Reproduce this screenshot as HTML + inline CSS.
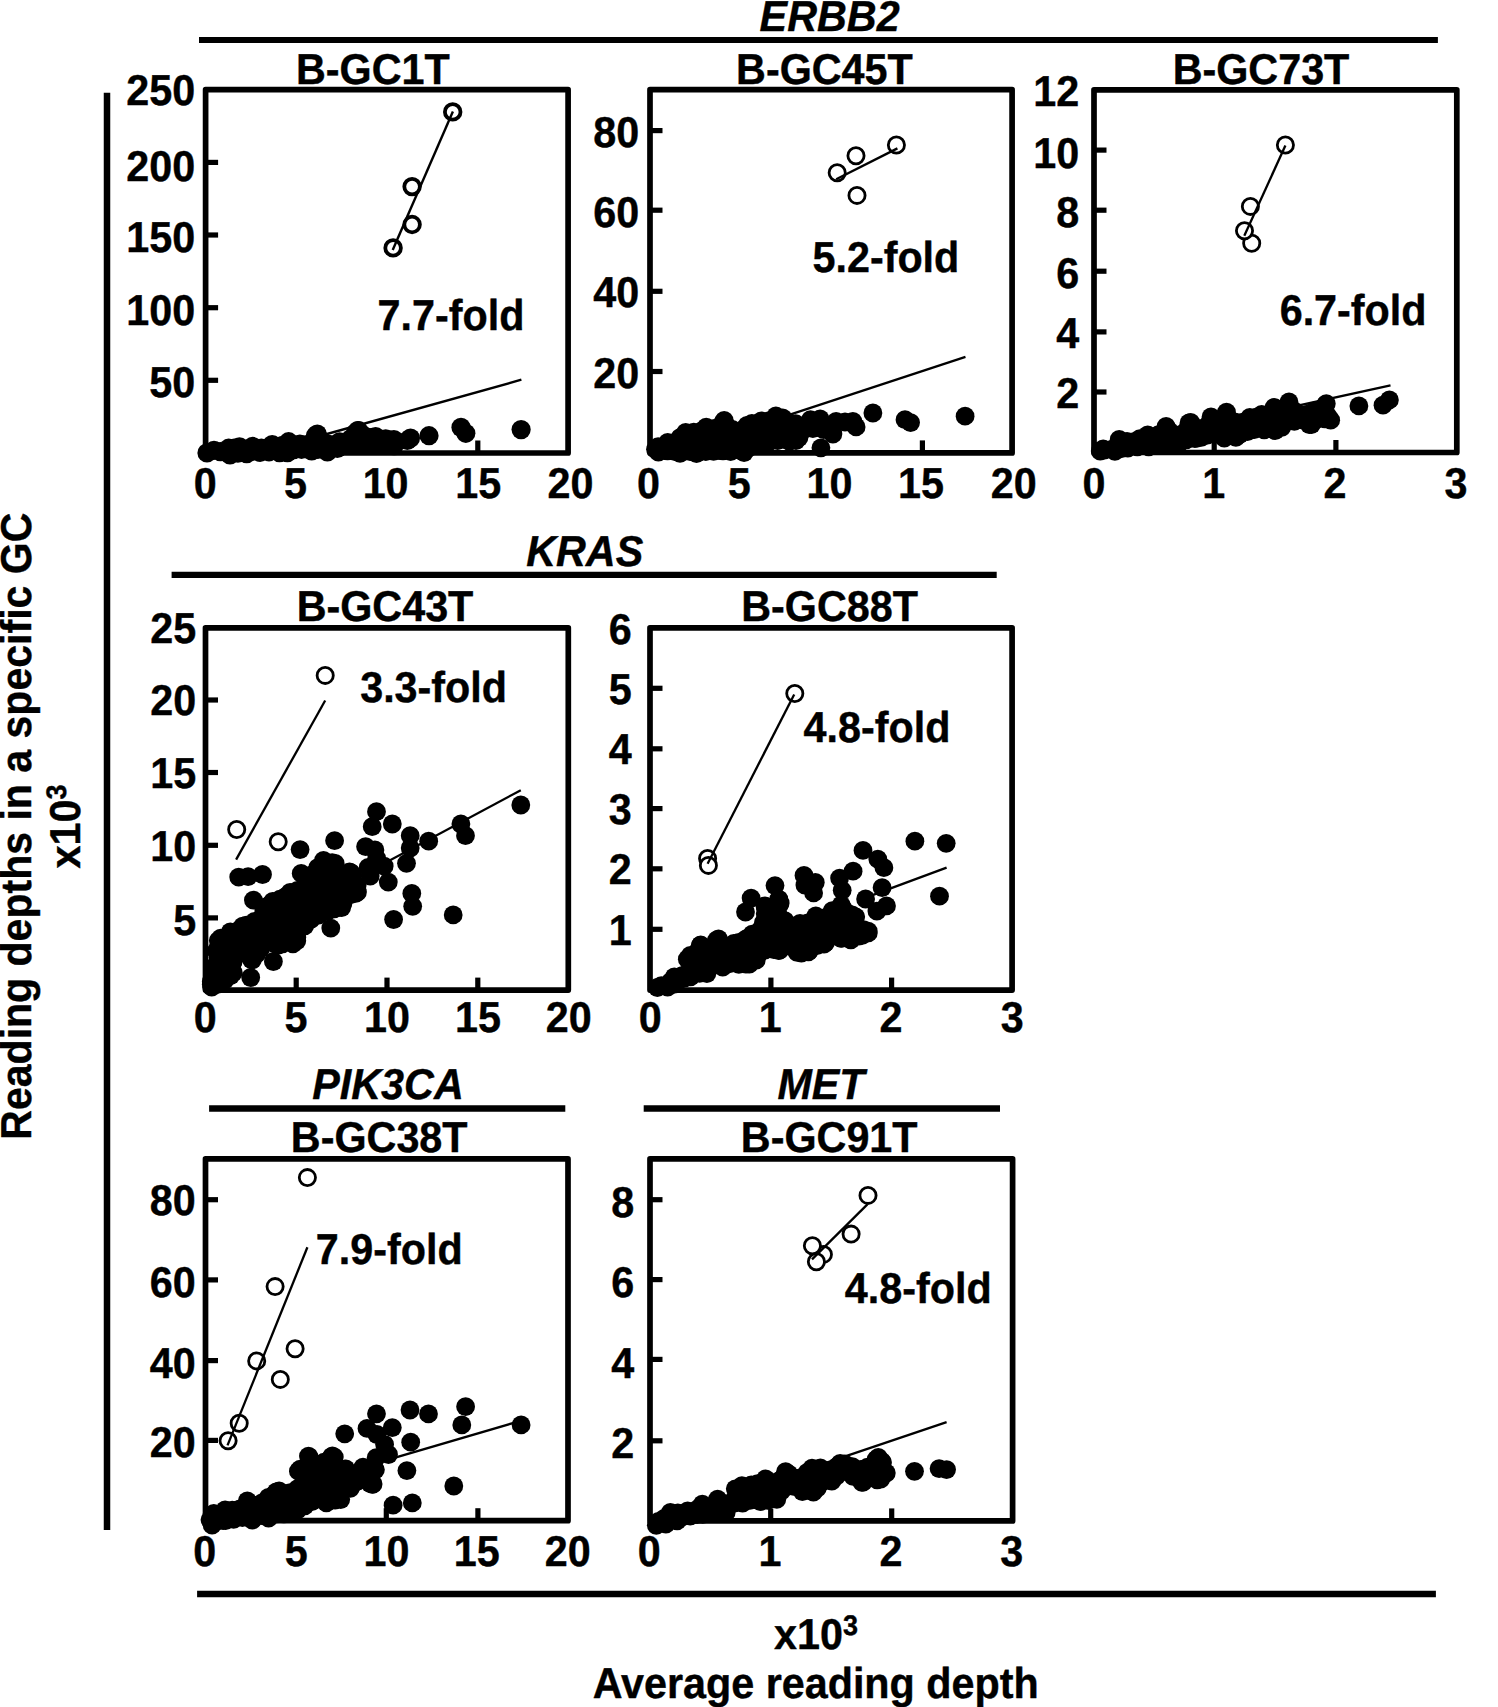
<!DOCTYPE html>
<html lang="en"><head><meta charset="utf-8"><title>Figure</title>
<style>html,body{margin:0;padding:0;background:#fff}svg{display:block}</style></head>
<body>
<svg width="1498" height="1707" viewBox="0 0 1498 1707" font-family="'Liberation Sans', sans-serif" font-weight="bold" fill="#000" text-rendering="geometricPrecision">
<style>text{stroke:#000;stroke-width:0.4px;stroke-linejoin:round}</style>
<rect width="1498" height="1707" fill="#fff"/>
<line x1="199.0" y1="40.0" x2="1437.9" y2="40.0" stroke="#000" stroke-width="6.2"/>
<line x1="171.6" y1="574.9" x2="996.7" y2="574.9" stroke="#000" stroke-width="6.4"/>
<line x1="209.1" y1="1108.5" x2="565.3" y2="1108.5" stroke="#000" stroke-width="6.6"/>
<line x1="643.7" y1="1108.5" x2="1000.0" y2="1108.5" stroke="#000" stroke-width="6.6"/>
<line x1="197.1" y1="1593.9" x2="1435.9" y2="1593.9" stroke="#000" stroke-width="6.5"/>
<line x1="107.0" y1="92.7" x2="107.0" y2="1530.1" stroke="#000" stroke-width="6.5"/>
<text transform="translate(829.6,30.7) scale(1,1.045)" text-anchor="middle" font-size="41.3" font-style="italic">ERBB2</text>
<text transform="translate(584.7,566.0) scale(1,1.045)" text-anchor="middle" font-size="41.3" font-style="italic">KRAS</text>
<text transform="translate(388.0,1099.3) scale(1,1.045)" text-anchor="middle" font-size="41.3" font-style="italic">PIK3CA</text>
<text transform="translate(821.0,1099.3) scale(1,1.045)" text-anchor="middle" font-size="41.3" font-style="italic">MET</text>
<text transform="translate(30.7,826.2) rotate(-90) scale(0.9936,1.045)" text-anchor="middle" font-size="41.3">Reading depths in a specific GC</text>
<text transform="translate(79.8,826.5) rotate(-90) scale(1,1.045)" text-anchor="middle" font-size="41.3">x10<tspan font-size="27" dy="-13">3</tspan></text>
<text transform="translate(816,1649) scale(1,1.045)" text-anchor="middle" font-size="41.3">x10<tspan font-size="27" dy="-13">3</tspan></text>
<text transform="translate(815.7,1697.6) scale(1,1.045)" text-anchor="middle" font-size="41.3">Average reading depth</text>
<rect x="205.6" y="89.7" width="362.5" height="363.3" fill="none" stroke="#000" stroke-width="5.7" stroke-linejoin="round"/>
<line x1="205.6" y1="162.4" x2="218.1" y2="162.4" stroke="#000" stroke-width="5.2"/>
<line x1="205.6" y1="235.0" x2="218.1" y2="235.0" stroke="#000" stroke-width="5.2"/>
<line x1="205.6" y1="307.7" x2="218.1" y2="307.7" stroke="#000" stroke-width="5.2"/>
<line x1="205.6" y1="380.3" x2="218.1" y2="380.3" stroke="#000" stroke-width="5.2"/>
<line x1="477.8" y1="453.0" x2="477.8" y2="440.5" stroke="#000" stroke-width="5.2"/>
<text transform="translate(195.2,105.4) scale(1,1.045)" text-anchor="end" font-size="41.3">250</text>
<text transform="translate(195.2,181.4) scale(1,1.045)" text-anchor="end" font-size="41.3">200</text>
<text transform="translate(195.2,252.3) scale(1,1.045)" text-anchor="end" font-size="41.3">150</text>
<text transform="translate(195.2,324.9) scale(1,1.045)" text-anchor="end" font-size="41.3">100</text>
<text transform="translate(195.2,396.6) scale(1,1.045)" text-anchor="end" font-size="41.3">50</text>
<text transform="translate(205.3,497.9) scale(1,1.045)" text-anchor="middle" font-size="41.3">0</text>
<text transform="translate(295.4,497.9) scale(1,1.045)" text-anchor="middle" font-size="41.3">5</text>
<text transform="translate(385.6,497.9) scale(1,1.045)" text-anchor="middle" font-size="41.3">10</text>
<text transform="translate(478.2,497.9) scale(1,1.045)" text-anchor="middle" font-size="41.3">15</text>
<text transform="translate(570.4,497.9) scale(1,1.045)" text-anchor="middle" font-size="41.3">20</text>
<text transform="translate(372.9,84.0) scale(1,1.045)" text-anchor="middle" font-size="41.3">B-GC1T</text>
<text transform="translate(451.0,330.0) scale(1,1.045)" text-anchor="middle" font-size="41.3">7.7-fold</text>
<line x1="300.0" y1="441.5" x2="521.4" y2="379.7" stroke="#000" stroke-width="2.4"/>
<g fill="#000"><circle cx="521.1" cy="429.6" r="9.6"/><circle cx="461.0" cy="427.4" r="9.6"/><circle cx="465.8" cy="433.3" r="9.6"/><circle cx="429.0" cy="435.7" r="9.6"/><circle cx="410.5" cy="438.1" r="9.6"/><circle cx="407.3" cy="440.5" r="9.6"/><circle cx="389.7" cy="440.5" r="9.6"/><circle cx="375.3" cy="437.3" r="9.6"/><circle cx="357.7" cy="430.6" r="9.6"/><circle cx="317.3" cy="434.1" r="9.6"/><circle cx="220.4" cy="451.7" r="9.6"/><circle cx="227.2" cy="451.9" r="9.6"/><circle cx="235.2" cy="451.3" r="9.6"/><circle cx="243.8" cy="451.3" r="9.6"/><circle cx="253.0" cy="451.2" r="9.6"/><circle cx="260.2" cy="452.3" r="9.6"/><circle cx="269.0" cy="451.8" r="9.6"/><circle cx="276.2" cy="450.3" r="9.6"/><circle cx="283.4" cy="449.8" r="9.6"/><circle cx="293.6" cy="449.7" r="9.6"/><circle cx="301.5" cy="449.3" r="9.6"/><circle cx="307.3" cy="449.0" r="9.6"/><circle cx="317.8" cy="449.4" r="9.6"/><circle cx="325.7" cy="449.2" r="9.6"/><circle cx="334.4" cy="447.3" r="9.6"/><circle cx="340.3" cy="444.2" r="9.6"/><circle cx="335.1" cy="445.2" r="9.6"/><circle cx="329.1" cy="444.4" r="9.6"/><circle cx="321.5" cy="440.6" r="9.6"/><circle cx="314.9" cy="440.5" r="9.6"/><circle cx="306.7" cy="444.6" r="9.6"/><circle cx="299.9" cy="444.1" r="9.6"/><circle cx="291.7" cy="444.4" r="9.6"/><circle cx="282.7" cy="445.3" r="9.6"/><circle cx="276.2" cy="446.3" r="9.6"/><circle cx="268.4" cy="447.7" r="9.6"/><circle cx="261.4" cy="448.1" r="9.6"/><circle cx="252.4" cy="449.9" r="9.6"/><circle cx="244.6" cy="450.1" r="9.6"/><circle cx="234.2" cy="448.2" r="9.6"/><circle cx="228.8" cy="450.6" r="9.6"/><circle cx="313.4" cy="442.9" r="9.6"/><circle cx="319.4" cy="442.9" r="9.6"/><circle cx="268.4" cy="448.1" r="9.6"/><circle cx="274.4" cy="448.1" r="9.6"/><circle cx="280.4" cy="448.1" r="9.6"/><circle cx="286.4" cy="448.1" r="9.6"/><circle cx="292.4" cy="448.1" r="9.6"/><circle cx="298.4" cy="448.1" r="9.6"/><circle cx="304.4" cy="448.1" r="9.6"/><circle cx="310.4" cy="448.1" r="9.6"/><circle cx="316.4" cy="448.1" r="9.6"/><circle cx="322.4" cy="448.1" r="9.6"/><circle cx="328.4" cy="448.1" r="9.6"/><circle cx="343.8" cy="442.3" r="9.6"/><circle cx="351.7" cy="443.1" r="9.6"/><circle cx="358.3" cy="442.0" r="9.6"/><circle cx="367.5" cy="442.5" r="9.6"/><circle cx="375.2" cy="442.3" r="9.6"/><circle cx="384.9" cy="443.1" r="9.6"/><circle cx="387.9" cy="440.9" r="9.6"/><circle cx="379.0" cy="439.6" r="9.6"/><circle cx="371.7" cy="437.6" r="9.6"/><circle cx="363.8" cy="435.5" r="9.6"/><circle cx="355.6" cy="432.9" r="9.6"/><circle cx="351.0" cy="438.6" r="9.6"/><circle cx="358.0" cy="437.8" r="9.6"/><circle cx="364.0" cy="437.8" r="9.6"/><circle cx="370.0" cy="437.8" r="9.6"/><circle cx="214.0" cy="450.3" r="9.6"/><circle cx="390.7" cy="440.1" r="9.6"/><circle cx="315.4" cy="435.7" r="9.6"/><circle cx="337.4" cy="448.5" r="9.6"/><circle cx="246.7" cy="453.6" r="9.6"/><circle cx="272.2" cy="444.5" r="9.6"/><circle cx="207.0" cy="452.9" r="9.6"/><circle cx="394.1" cy="445.6" r="9.6"/><circle cx="327.4" cy="451.9" r="9.6"/><circle cx="375.6" cy="436.5" r="9.6"/><circle cx="237.9" cy="453.2" r="9.6"/><circle cx="239.5" cy="446.9" r="9.6"/><circle cx="358.8" cy="430.7" r="9.6"/><circle cx="311.7" cy="450.9" r="9.6"/><circle cx="287.4" cy="452.7" r="9.6"/><circle cx="288.6" cy="441.7" r="9.6"/><circle cx="228.7" cy="448.2" r="9.6"/><circle cx="339.6" cy="441.9" r="9.6"/><circle cx="363.2" cy="444.2" r="9.6"/><circle cx="252.7" cy="446.4" r="9.6"/><circle cx="230.0" cy="455.0" r="9.6"/><circle cx="393.9" cy="439.6" r="9.6"/><circle cx="385.7" cy="438.8" r="9.6"/><circle cx="380.6" cy="444.3" r="9.6"/><circle cx="279.5" cy="452.7" r="9.6"/></g>
<g fill="#fff" stroke="#000" stroke-width="3.8"><circle cx="452.7" cy="111.9" r="7.8"/><circle cx="412.1" cy="186.6" r="7.8"/><circle cx="412.1" cy="224.5" r="7.8"/><circle cx="393.1" cy="247.9" r="7.8"/></g>
<line x1="392.7" y1="249.9" x2="452.9" y2="111.4" stroke="#000" stroke-width="2.4"/>
<rect x="650.0" y="89.7" width="362.1" height="363.2" fill="none" stroke="#000" stroke-width="5.7" stroke-linejoin="round"/>
<line x1="650.0" y1="130.6" x2="662.5" y2="130.6" stroke="#000" stroke-width="5.2"/>
<line x1="650.0" y1="210.2" x2="662.5" y2="210.2" stroke="#000" stroke-width="5.2"/>
<line x1="650.0" y1="291.3" x2="662.5" y2="291.3" stroke="#000" stroke-width="5.2"/>
<line x1="650.0" y1="371.5" x2="662.5" y2="371.5" stroke="#000" stroke-width="5.2"/>
<line x1="922.4" y1="452.9" x2="922.4" y2="440.4" stroke="#000" stroke-width="5.2"/>
<text transform="translate(639.3,147.3) scale(1,1.045)" text-anchor="end" font-size="41.3">80</text>
<text transform="translate(639.3,227.1) scale(1,1.045)" text-anchor="end" font-size="41.3">60</text>
<text transform="translate(639.3,307.3) scale(1,1.045)" text-anchor="end" font-size="41.3">40</text>
<text transform="translate(639.3,388.1) scale(1,1.045)" text-anchor="end" font-size="41.3">20</text>
<text transform="translate(648.6,497.9) scale(1,1.045)" text-anchor="middle" font-size="41.3">0</text>
<text transform="translate(739.2,497.9) scale(1,1.045)" text-anchor="middle" font-size="41.3">5</text>
<text transform="translate(829.5,497.9) scale(1,1.045)" text-anchor="middle" font-size="41.3">10</text>
<text transform="translate(921.0,497.9) scale(1,1.045)" text-anchor="middle" font-size="41.3">15</text>
<text transform="translate(1013.8,497.9) scale(1,1.045)" text-anchor="middle" font-size="41.3">20</text>
<text transform="translate(824.4,84.0) scale(1,1.045)" text-anchor="middle" font-size="41.3">B-GC45T</text>
<text transform="translate(885.9,271.8) scale(1,1.045)" text-anchor="middle" font-size="41.3">5.2-fold</text>
<line x1="780.0" y1="417.8" x2="965.5" y2="356.9" stroke="#000" stroke-width="2.3"/>
<g fill="#000"><circle cx="965.1" cy="416.2" r="9.4"/><circle cx="905.0" cy="419.7" r="9.4"/><circle cx="910.6" cy="422.6" r="9.4"/><circle cx="872.9" cy="413.0" r="9.4"/><circle cx="852.9" cy="421.3" r="9.4"/><circle cx="856.1" cy="426.9" r="9.4"/><circle cx="836.1" cy="421.3" r="9.4"/><circle cx="832.9" cy="434.1" r="9.4"/><circle cx="820.1" cy="418.9" r="9.4"/><circle cx="810.5" cy="419.7" r="9.4"/><circle cx="812.9" cy="428.5" r="9.4"/><circle cx="820.9" cy="447.8" r="9.4"/><circle cx="779.2" cy="418.1" r="9.4"/><circle cx="787.2" cy="421.3" r="9.4"/><circle cx="796.0" cy="440.5" r="9.4"/><circle cx="777.6" cy="440.5" r="9.4"/><circle cx="763.2" cy="424.5" r="9.4"/><circle cx="724.2" cy="420.5" r="9.4"/><circle cx="845.0" cy="422.0" r="9.4"/><circle cx="803.0" cy="430.0" r="9.4"/><circle cx="823.5" cy="429.5" r="9.4"/><circle cx="659.6" cy="450.0" r="9.4"/><circle cx="667.5" cy="450.8" r="9.4"/><circle cx="675.0" cy="451.6" r="9.4"/><circle cx="684.0" cy="451.1" r="9.4"/><circle cx="690.1" cy="451.5" r="9.4"/><circle cx="700.5" cy="450.9" r="9.4"/><circle cx="705.8" cy="451.7" r="9.4"/><circle cx="713.6" cy="451.3" r="9.4"/><circle cx="723.0" cy="450.8" r="9.4"/><circle cx="732.2" cy="449.6" r="9.4"/><circle cx="740.1" cy="450.2" r="9.4"/><circle cx="748.7" cy="447.8" r="9.4"/><circle cx="752.0" cy="443.5" r="9.4"/><circle cx="760.1" cy="440.7" r="9.4"/><circle cx="767.9" cy="440.0" r="9.4"/><circle cx="778.1" cy="439.8" r="9.4"/><circle cx="784.1" cy="439.3" r="9.4"/><circle cx="794.2" cy="438.8" r="9.4"/><circle cx="795.1" cy="432.1" r="9.4"/><circle cx="792.6" cy="425.3" r="9.4"/><circle cx="786.0" cy="421.5" r="9.4"/><circle cx="776.8" cy="420.3" r="9.4"/><circle cx="769.3" cy="420.7" r="9.4"/><circle cx="762.1" cy="422.7" r="9.4"/><circle cx="754.7" cy="425.0" r="9.4"/><circle cx="747.9" cy="427.9" r="9.4"/><circle cx="739.1" cy="431.2" r="9.4"/><circle cx="732.3" cy="429.4" r="9.4"/><circle cx="725.5" cy="424.5" r="9.4"/><circle cx="716.6" cy="428.0" r="9.4"/><circle cx="712.0" cy="428.8" r="9.4"/><circle cx="701.6" cy="430.8" r="9.4"/><circle cx="693.8" cy="432.2" r="9.4"/><circle cx="685.4" cy="435.7" r="9.4"/><circle cx="680.0" cy="437.6" r="9.4"/><circle cx="672.9" cy="443.1" r="9.4"/><circle cx="664.6" cy="446.6" r="9.4"/><circle cx="758.0" cy="424.5" r="9.4"/><circle cx="764.0" cy="424.5" r="9.4"/><circle cx="770.0" cy="424.5" r="9.4"/><circle cx="776.0" cy="424.5" r="9.4"/><circle cx="782.0" cy="424.5" r="9.4"/><circle cx="788.0" cy="424.5" r="9.4"/><circle cx="707.0" cy="429.7" r="9.4"/><circle cx="713.0" cy="429.7" r="9.4"/><circle cx="719.0" cy="429.7" r="9.4"/><circle cx="725.0" cy="429.7" r="9.4"/><circle cx="731.0" cy="429.7" r="9.4"/><circle cx="743.0" cy="429.7" r="9.4"/><circle cx="749.0" cy="429.7" r="9.4"/><circle cx="755.0" cy="429.7" r="9.4"/><circle cx="761.0" cy="429.7" r="9.4"/><circle cx="767.0" cy="429.7" r="9.4"/><circle cx="773.0" cy="429.7" r="9.4"/><circle cx="779.0" cy="429.7" r="9.4"/><circle cx="785.0" cy="429.7" r="9.4"/><circle cx="791.0" cy="429.7" r="9.4"/><circle cx="692.0" cy="434.9" r="9.4"/><circle cx="698.0" cy="434.9" r="9.4"/><circle cx="704.0" cy="434.9" r="9.4"/><circle cx="710.0" cy="434.9" r="9.4"/><circle cx="716.0" cy="434.9" r="9.4"/><circle cx="722.0" cy="434.9" r="9.4"/><circle cx="728.0" cy="434.9" r="9.4"/><circle cx="734.0" cy="434.9" r="9.4"/><circle cx="740.0" cy="434.9" r="9.4"/><circle cx="746.0" cy="434.9" r="9.4"/><circle cx="752.0" cy="434.9" r="9.4"/><circle cx="758.0" cy="434.9" r="9.4"/><circle cx="764.0" cy="434.9" r="9.4"/><circle cx="770.0" cy="434.9" r="9.4"/><circle cx="776.0" cy="434.9" r="9.4"/><circle cx="782.0" cy="434.9" r="9.4"/><circle cx="788.0" cy="434.9" r="9.4"/><circle cx="794.0" cy="434.9" r="9.4"/><circle cx="683.0" cy="440.1" r="9.4"/><circle cx="689.0" cy="440.1" r="9.4"/><circle cx="695.0" cy="440.1" r="9.4"/><circle cx="701.0" cy="440.1" r="9.4"/><circle cx="707.0" cy="440.1" r="9.4"/><circle cx="713.0" cy="440.1" r="9.4"/><circle cx="719.0" cy="440.1" r="9.4"/><circle cx="725.0" cy="440.1" r="9.4"/><circle cx="731.0" cy="440.1" r="9.4"/><circle cx="737.0" cy="440.1" r="9.4"/><circle cx="743.0" cy="440.1" r="9.4"/><circle cx="749.0" cy="440.1" r="9.4"/><circle cx="755.0" cy="440.1" r="9.4"/><circle cx="761.0" cy="440.1" r="9.4"/><circle cx="767.0" cy="440.1" r="9.4"/><circle cx="773.0" cy="440.1" r="9.4"/><circle cx="668.0" cy="445.3" r="9.4"/><circle cx="674.0" cy="445.3" r="9.4"/><circle cx="680.0" cy="445.3" r="9.4"/><circle cx="686.0" cy="445.3" r="9.4"/><circle cx="692.0" cy="445.3" r="9.4"/><circle cx="698.0" cy="445.3" r="9.4"/><circle cx="704.0" cy="445.3" r="9.4"/><circle cx="710.0" cy="445.3" r="9.4"/><circle cx="716.0" cy="445.3" r="9.4"/><circle cx="722.0" cy="445.3" r="9.4"/><circle cx="728.0" cy="445.3" r="9.4"/><circle cx="734.0" cy="445.3" r="9.4"/><circle cx="740.0" cy="445.3" r="9.4"/><circle cx="746.0" cy="445.3" r="9.4"/><circle cx="665.0" cy="450.5" r="9.4"/><circle cx="671.0" cy="450.5" r="9.4"/><circle cx="677.0" cy="450.5" r="9.4"/><circle cx="683.0" cy="450.5" r="9.4"/><circle cx="689.0" cy="450.5" r="9.4"/><circle cx="695.0" cy="450.5" r="9.4"/><circle cx="701.0" cy="450.5" r="9.4"/><circle cx="707.0" cy="450.5" r="9.4"/><circle cx="713.0" cy="450.5" r="9.4"/><circle cx="719.0" cy="450.5" r="9.4"/><circle cx="658.1" cy="446.7" r="9.4"/><circle cx="797.1" cy="428.4" r="9.4"/><circle cx="722.9" cy="422.6" r="9.4"/><circle cx="751.9" cy="423.3" r="9.4"/><circle cx="782.6" cy="418.0" r="9.4"/><circle cx="789.3" cy="441.4" r="9.4"/><circle cx="655.5" cy="449.3" r="9.4"/><circle cx="744.1" cy="452.6" r="9.4"/><circle cx="799.0" cy="437.5" r="9.4"/><circle cx="730.6" cy="451.6" r="9.4"/><circle cx="795.7" cy="423.6" r="9.4"/><circle cx="706.2" cy="427.1" r="9.4"/><circle cx="658.4" cy="452.1" r="9.4"/><circle cx="696.5" cy="453.5" r="9.4"/><circle cx="756.8" cy="443.6" r="9.4"/><circle cx="685.7" cy="432.4" r="9.4"/><circle cx="667.7" cy="442.4" r="9.4"/><circle cx="747.0" cy="425.4" r="9.4"/><circle cx="765.7" cy="445.1" r="9.4"/><circle cx="680.0" cy="453.3" r="9.4"/><circle cx="775.9" cy="415.8" r="9.4"/><circle cx="761.3" cy="420.8" r="9.4"/></g>
<g fill="#fff" stroke="#000" stroke-width="2.8"><circle cx="896.4" cy="145.0" r="8.1"/><circle cx="856.0" cy="155.7" r="8.1"/><circle cx="837.2" cy="172.7" r="8.1"/><circle cx="857.0" cy="195.4" r="8.1"/></g>
<line x1="836.2" y1="179.3" x2="897.4" y2="148.4" stroke="#000" stroke-width="2.3"/>
<rect x="1094.0" y="89.8" width="362.8" height="362.7" fill="none" stroke="#000" stroke-width="5.7" stroke-linejoin="round"/>
<line x1="1094.0" y1="150.1" x2="1106.5" y2="150.1" stroke="#000" stroke-width="5.2"/>
<line x1="1094.0" y1="210.2" x2="1106.5" y2="210.2" stroke="#000" stroke-width="5.2"/>
<line x1="1094.0" y1="271.2" x2="1106.5" y2="271.2" stroke="#000" stroke-width="5.2"/>
<line x1="1094.0" y1="331.9" x2="1106.5" y2="331.9" stroke="#000" stroke-width="5.2"/>
<line x1="1094.0" y1="392.0" x2="1106.5" y2="392.0" stroke="#000" stroke-width="5.2"/>
<line x1="1214.2" y1="452.5" x2="1214.2" y2="440.0" stroke="#000" stroke-width="5.2"/>
<line x1="1335.9" y1="452.5" x2="1335.9" y2="440.0" stroke="#000" stroke-width="5.2"/>
<text transform="translate(1079.1,105.9) scale(1,1.045)" text-anchor="end" font-size="41.3">12</text>
<text transform="translate(1079.1,167.8) scale(1,1.045)" text-anchor="end" font-size="41.3">10</text>
<text transform="translate(1079.1,227.4) scale(1,1.045)" text-anchor="end" font-size="41.3">8</text>
<text transform="translate(1079.1,287.5) scale(1,1.045)" text-anchor="end" font-size="41.3">6</text>
<text transform="translate(1079.1,347.7) scale(1,1.045)" text-anchor="end" font-size="41.3">4</text>
<text transform="translate(1079.1,407.8) scale(1,1.045)" text-anchor="end" font-size="41.3">2</text>
<text transform="translate(1094.0,497.9) scale(1,1.045)" text-anchor="middle" font-size="41.3">0</text>
<text transform="translate(1213.8,497.9) scale(1,1.045)" text-anchor="middle" font-size="41.3">1</text>
<text transform="translate(1335.0,497.9) scale(1,1.045)" text-anchor="middle" font-size="41.3">2</text>
<text transform="translate(1456.0,497.9) scale(1,1.045)" text-anchor="middle" font-size="41.3">3</text>
<text transform="translate(1261.0,84.0) scale(1,1.045)" text-anchor="middle" font-size="41.3">B-GC73T</text>
<text transform="translate(1353.1,325.2) scale(1,1.045)" text-anchor="middle" font-size="41.3">6.7-fold</text>
<line x1="1200.0" y1="427.0" x2="1390.5" y2="385.4" stroke="#000" stroke-width="2.3"/>
<g fill="#000"><circle cx="1358.9" cy="405.9" r="9.4"/><circle cx="1383.0" cy="405.2" r="9.4"/><circle cx="1389.4" cy="399.9" r="9.4"/><circle cx="1330.7" cy="420.2" r="9.4"/><circle cx="1325.3" cy="405.2" r="9.4"/><circle cx="1311.4" cy="424.5" r="9.4"/><circle cx="1289.0" cy="402.0" r="9.4"/><circle cx="1274.1" cy="407.4" r="9.4"/><circle cx="1226.0" cy="414.9" r="9.4"/><circle cx="1211.0" cy="417.0" r="9.4"/><circle cx="1189.0" cy="423.0" r="9.4"/><circle cx="1167.2" cy="429.8" r="9.4"/><circle cx="1119.2" cy="439.4" r="9.4"/><circle cx="1103.2" cy="449.0" r="9.4"/><circle cx="1112.7" cy="448.8" r="9.4"/><circle cx="1121.6" cy="448.5" r="9.4"/><circle cx="1127.8" cy="448.2" r="9.4"/><circle cx="1137.3" cy="446.9" r="9.4"/><circle cx="1144.4" cy="444.6" r="9.4"/><circle cx="1154.1" cy="444.5" r="9.4"/><circle cx="1161.7" cy="442.8" r="9.4"/><circle cx="1168.9" cy="442.2" r="9.4"/><circle cx="1176.6" cy="441.5" r="9.4"/><circle cx="1186.2" cy="439.9" r="9.4"/><circle cx="1194.9" cy="438.7" r="9.4"/><circle cx="1201.3" cy="437.3" r="9.4"/><circle cx="1207.3" cy="435.1" r="9.4"/><circle cx="1218.1" cy="434.1" r="9.4"/><circle cx="1226.3" cy="435.1" r="9.4"/><circle cx="1233.0" cy="435.1" r="9.4"/><circle cx="1239.5" cy="434.5" r="9.4"/><circle cx="1247.5" cy="431.6" r="9.4"/><circle cx="1254.3" cy="429.7" r="9.4"/><circle cx="1264.2" cy="429.8" r="9.4"/><circle cx="1272.4" cy="429.2" r="9.4"/><circle cx="1279.4" cy="426.1" r="9.4"/><circle cx="1285.3" cy="422.0" r="9.4"/><circle cx="1294.3" cy="421.4" r="9.4"/><circle cx="1302.8" cy="419.8" r="9.4"/><circle cx="1309.9" cy="421.7" r="9.4"/><circle cx="1317.0" cy="419.0" r="9.4"/><circle cx="1325.0" cy="418.9" r="9.4"/><circle cx="1325.0" cy="411.9" r="9.4"/><circle cx="1323.9" cy="407.1" r="9.4"/><circle cx="1316.9" cy="412.5" r="9.4"/><circle cx="1307.4" cy="414.2" r="9.4"/><circle cx="1299.1" cy="414.4" r="9.4"/><circle cx="1293.9" cy="410.7" r="9.4"/><circle cx="1287.6" cy="409.1" r="9.4"/><circle cx="1280.0" cy="411.8" r="9.4"/><circle cx="1272.9" cy="412.8" r="9.4"/><circle cx="1266.5" cy="416.6" r="9.4"/><circle cx="1256.6" cy="417.1" r="9.4"/><circle cx="1249.6" cy="419.9" r="9.4"/><circle cx="1242.7" cy="422.2" r="9.4"/><circle cx="1234.7" cy="422.0" r="9.4"/><circle cx="1227.5" cy="418.1" r="9.4"/><circle cx="1221.7" cy="422.1" r="9.4"/><circle cx="1212.5" cy="421.4" r="9.4"/><circle cx="1208.4" cy="424.5" r="9.4"/><circle cx="1200.3" cy="428.7" r="9.4"/><circle cx="1192.8" cy="426.3" r="9.4"/><circle cx="1186.6" cy="430.1" r="9.4"/><circle cx="1181.1" cy="434.5" r="9.4"/><circle cx="1170.7" cy="434.6" r="9.4"/><circle cx="1163.7" cy="432.2" r="9.4"/><circle cx="1158.5" cy="434.6" r="9.4"/><circle cx="1149.0" cy="437.2" r="9.4"/><circle cx="1140.9" cy="440.5" r="9.4"/><circle cx="1134.8" cy="441.5" r="9.4"/><circle cx="1127.0" cy="441.5" r="9.4"/><circle cx="1119.7" cy="445.9" r="9.4"/><circle cx="1277.8" cy="412.1" r="9.4"/><circle cx="1283.8" cy="412.1" r="9.4"/><circle cx="1289.8" cy="412.1" r="9.4"/><circle cx="1319.8" cy="412.1" r="9.4"/><circle cx="1256.8" cy="417.3" r="9.4"/><circle cx="1262.8" cy="417.3" r="9.4"/><circle cx="1268.8" cy="417.3" r="9.4"/><circle cx="1274.8" cy="417.3" r="9.4"/><circle cx="1280.8" cy="417.3" r="9.4"/><circle cx="1286.8" cy="417.3" r="9.4"/><circle cx="1292.8" cy="417.3" r="9.4"/><circle cx="1298.8" cy="417.3" r="9.4"/><circle cx="1304.8" cy="417.3" r="9.4"/><circle cx="1310.8" cy="417.3" r="9.4"/><circle cx="1316.8" cy="417.3" r="9.4"/><circle cx="1322.8" cy="417.3" r="9.4"/><circle cx="1211.8" cy="422.5" r="9.4"/><circle cx="1217.8" cy="422.5" r="9.4"/><circle cx="1223.8" cy="422.5" r="9.4"/><circle cx="1229.8" cy="422.5" r="9.4"/><circle cx="1247.8" cy="422.5" r="9.4"/><circle cx="1253.8" cy="422.5" r="9.4"/><circle cx="1259.8" cy="422.5" r="9.4"/><circle cx="1265.8" cy="422.5" r="9.4"/><circle cx="1271.8" cy="422.5" r="9.4"/><circle cx="1277.8" cy="422.5" r="9.4"/><circle cx="1283.8" cy="422.5" r="9.4"/><circle cx="1190.8" cy="427.7" r="9.4"/><circle cx="1208.8" cy="427.7" r="9.4"/><circle cx="1214.8" cy="427.7" r="9.4"/><circle cx="1220.8" cy="427.7" r="9.4"/><circle cx="1226.8" cy="427.7" r="9.4"/><circle cx="1232.8" cy="427.7" r="9.4"/><circle cx="1238.8" cy="427.7" r="9.4"/><circle cx="1244.8" cy="427.7" r="9.4"/><circle cx="1250.8" cy="427.7" r="9.4"/><circle cx="1256.8" cy="427.7" r="9.4"/><circle cx="1262.8" cy="427.7" r="9.4"/><circle cx="1268.8" cy="427.7" r="9.4"/><circle cx="1274.8" cy="427.7" r="9.4"/><circle cx="1163.8" cy="432.9" r="9.4"/><circle cx="1187.8" cy="432.9" r="9.4"/><circle cx="1193.8" cy="432.9" r="9.4"/><circle cx="1199.8" cy="432.9" r="9.4"/><circle cx="1205.8" cy="432.9" r="9.4"/><circle cx="1211.8" cy="432.9" r="9.4"/><circle cx="1217.8" cy="432.9" r="9.4"/><circle cx="1223.8" cy="432.9" r="9.4"/><circle cx="1229.8" cy="432.9" r="9.4"/><circle cx="1235.8" cy="432.9" r="9.4"/><circle cx="1148.8" cy="438.1" r="9.4"/><circle cx="1154.8" cy="438.1" r="9.4"/><circle cx="1160.8" cy="438.1" r="9.4"/><circle cx="1166.8" cy="438.1" r="9.4"/><circle cx="1172.8" cy="438.1" r="9.4"/><circle cx="1178.8" cy="438.1" r="9.4"/><circle cx="1184.8" cy="438.1" r="9.4"/><circle cx="1190.8" cy="438.1" r="9.4"/><circle cx="1196.8" cy="438.1" r="9.4"/><circle cx="1121.8" cy="443.3" r="9.4"/><circle cx="1127.8" cy="443.3" r="9.4"/><circle cx="1133.8" cy="443.3" r="9.4"/><circle cx="1139.8" cy="443.3" r="9.4"/><circle cx="1145.8" cy="443.3" r="9.4"/><circle cx="1151.8" cy="443.3" r="9.4"/><circle cx="1157.8" cy="443.3" r="9.4"/><circle cx="1118.8" cy="448.5" r="9.4"/><circle cx="1104.3" cy="450.2" r="9.4"/><circle cx="1327.4" cy="415.4" r="9.4"/><circle cx="1288.5" cy="403.7" r="9.4"/><circle cx="1212.3" cy="418.5" r="9.4"/><circle cx="1275.2" cy="408.1" r="9.4"/><circle cx="1249.8" cy="417.3" r="9.4"/><circle cx="1100.2" cy="451.0" r="9.4"/><circle cx="1329.3" cy="418.9" r="9.4"/><circle cx="1190.7" cy="422.4" r="9.4"/><circle cx="1169.7" cy="431.4" r="9.4"/><circle cx="1147.7" cy="434.9" r="9.4"/><circle cx="1119.3" cy="441.7" r="9.4"/><circle cx="1309.3" cy="424.7" r="9.4"/><circle cx="1326.3" cy="403.7" r="9.4"/><circle cx="1114.9" cy="451.3" r="9.4"/><circle cx="1261.7" cy="414.3" r="9.4"/><circle cx="1281.7" cy="427.3" r="9.4"/><circle cx="1235.9" cy="437.3" r="9.4"/><circle cx="1169.0" cy="444.4" r="9.4"/><circle cx="1314.3" cy="410.8" r="9.4"/><circle cx="1148.7" cy="446.9" r="9.4"/><circle cx="1226.5" cy="412.2" r="9.4"/><circle cx="1224.3" cy="438.1" r="9.4"/><circle cx="1275.2" cy="430.7" r="9.4"/><circle cx="1139.8" cy="438.6" r="9.4"/><circle cx="1166.1" cy="426.3" r="9.4"/><circle cx="1179.6" cy="442.7" r="9.4"/></g>
<g fill="#fff" stroke="#000" stroke-width="2.8"><circle cx="1285.4" cy="145.0" r="8.1"/><circle cx="1250.4" cy="206.4" r="8.1"/><circle cx="1251.7" cy="243.3" r="8.1"/><circle cx="1244.5" cy="230.7" r="8.1"/></g>
<line x1="1244.3" y1="235.7" x2="1285.4" y2="145.6" stroke="#000" stroke-width="2.3"/>
<rect x="205.5" y="627.8" width="362.8" height="362.3" fill="none" stroke="#000" stroke-width="5.7" stroke-linejoin="round"/>
<line x1="205.5" y1="700.0" x2="218.0" y2="700.0" stroke="#000" stroke-width="5.2"/>
<line x1="205.5" y1="772.5" x2="218.0" y2="772.5" stroke="#000" stroke-width="5.2"/>
<line x1="205.5" y1="845.3" x2="218.0" y2="845.3" stroke="#000" stroke-width="5.2"/>
<line x1="205.5" y1="917.9" x2="218.0" y2="917.9" stroke="#000" stroke-width="5.2"/>
<line x1="296.2" y1="990.1" x2="296.2" y2="977.6" stroke="#000" stroke-width="5.2"/>
<line x1="387.0" y1="990.1" x2="387.0" y2="977.6" stroke="#000" stroke-width="5.2"/>
<line x1="477.8" y1="990.1" x2="477.8" y2="977.6" stroke="#000" stroke-width="5.2"/>
<text transform="translate(196.2,643.4) scale(1,1.045)" text-anchor="end" font-size="41.3">25</text>
<text transform="translate(196.2,714.7) scale(1,1.045)" text-anchor="end" font-size="41.3">20</text>
<text transform="translate(196.2,787.8) scale(1,1.045)" text-anchor="end" font-size="41.3">15</text>
<text transform="translate(196.2,861.3) scale(1,1.045)" text-anchor="end" font-size="41.3">10</text>
<text transform="translate(196.2,934.5) scale(1,1.045)" text-anchor="end" font-size="41.3">5</text>
<text transform="translate(205.3,1032.3) scale(1,1.045)" text-anchor="middle" font-size="41.3">0</text>
<text transform="translate(296.0,1032.3) scale(1,1.045)" text-anchor="middle" font-size="41.3">5</text>
<text transform="translate(386.9,1032.3) scale(1,1.045)" text-anchor="middle" font-size="41.3">10</text>
<text transform="translate(477.9,1032.3) scale(1,1.045)" text-anchor="middle" font-size="41.3">15</text>
<text transform="translate(568.7,1032.3) scale(1,1.045)" text-anchor="middle" font-size="41.3">20</text>
<text transform="translate(385.0,621.0) scale(1,1.045)" text-anchor="middle" font-size="41.3">B-GC43T</text>
<text transform="translate(433.6,702.1) scale(1,1.045)" text-anchor="middle" font-size="41.3">3.3-fold</text>
<line x1="300.0" y1="908.6" x2="520.8" y2="790.2" stroke="#000" stroke-width="2.3"/>
<g fill="#000"><circle cx="376.7" cy="858.5" r="9.4"/><circle cx="300.1" cy="849.6" r="9.4"/><circle cx="334.6" cy="840.7" r="9.4"/><circle cx="372.2" cy="826.7" r="9.4"/><circle cx="392.3" cy="824.0" r="9.4"/><circle cx="365.6" cy="846.7" r="9.4"/><circle cx="374.9" cy="850.0" r="9.4"/><circle cx="238.7" cy="877.1" r="9.4"/><circle cx="248.1" cy="876.7" r="9.4"/><circle cx="262.5" cy="874.5" r="9.4"/><circle cx="253.4" cy="900.1" r="9.4"/><circle cx="301.2" cy="873.4" r="9.4"/><circle cx="393.6" cy="919.5" r="9.4"/><circle cx="330.8" cy="928.1" r="9.4"/><circle cx="273.4" cy="961.5" r="9.4"/><circle cx="250.7" cy="977.5" r="9.4"/><circle cx="242.7" cy="926.1" r="9.4"/><circle cx="220.7" cy="938.2" r="9.4"/><circle cx="218.0" cy="957.5" r="9.4"/><circle cx="251.4" cy="959.5" r="9.4"/><circle cx="296.8" cy="940.8" r="9.4"/><circle cx="278.8" cy="944.8" r="9.4"/><circle cx="230.7" cy="975.5" r="9.4"/><circle cx="211.3" cy="984.2" r="9.4"/><circle cx="357.5" cy="892.1" r="9.4"/><circle cx="388.3" cy="882.1" r="9.4"/><circle cx="370.2" cy="876.1" r="9.4"/><circle cx="384.2" cy="866.1" r="9.4"/><circle cx="368.2" cy="867.4" r="9.4"/><circle cx="350.9" cy="872.7" r="9.4"/><circle cx="339.5" cy="907.4" r="9.4"/><circle cx="325.5" cy="862.7" r="9.4"/><circle cx="332.2" cy="862.7" r="9.4"/><circle cx="520.8" cy="805.0" r="9.4"/><circle cx="460.9" cy="824.0" r="9.4"/><circle cx="465.5" cy="835.7" r="9.4"/><circle cx="428.7" cy="841.2" r="9.4"/><circle cx="410.2" cy="835.7" r="9.4"/><circle cx="410.2" cy="848.0" r="9.4"/><circle cx="406.5" cy="863.3" r="9.4"/><circle cx="411.8" cy="893.4" r="9.4"/><circle cx="412.7" cy="906.3" r="9.4"/><circle cx="453.2" cy="914.9" r="9.4"/><circle cx="376.5" cy="811.7" r="9.4"/><circle cx="211.3" cy="981.4" r="9.4"/><circle cx="216.2" cy="980.6" r="9.4"/><circle cx="223.7" cy="977.3" r="9.4"/><circle cx="230.7" cy="972.9" r="9.4"/><circle cx="232.6" cy="962.7" r="9.4"/><circle cx="234.8" cy="955.7" r="9.4"/><circle cx="242.0" cy="952.8" r="9.4"/><circle cx="248.4" cy="954.4" r="9.4"/><circle cx="256.5" cy="954.1" r="9.4"/><circle cx="260.8" cy="948.5" r="9.4"/><circle cx="264.7" cy="943.2" r="9.4"/><circle cx="273.8" cy="942.9" r="9.4"/><circle cx="282.6" cy="943.9" r="9.4"/><circle cx="289.4" cy="941.6" r="9.4"/><circle cx="296.8" cy="937.2" r="9.4"/><circle cx="298.9" cy="927.2" r="9.4"/><circle cx="304.8" cy="923.4" r="9.4"/><circle cx="311.0" cy="919.3" r="9.4"/><circle cx="318.7" cy="915.0" r="9.4"/><circle cx="327.6" cy="911.1" r="9.4"/><circle cx="334.2" cy="908.8" r="9.4"/><circle cx="339.1" cy="906.1" r="9.4"/><circle cx="342.8" cy="898.0" r="9.4"/><circle cx="350.8" cy="894.7" r="9.4"/><circle cx="355.6" cy="888.2" r="9.4"/><circle cx="352.3" cy="879.8" r="9.4"/><circle cx="348.5" cy="874.6" r="9.4"/><circle cx="340.0" cy="874.6" r="9.4"/><circle cx="334.7" cy="868.6" r="9.4"/><circle cx="328.6" cy="863.8" r="9.4"/><circle cx="323.4" cy="865.2" r="9.4"/><circle cx="316.6" cy="870.8" r="9.4"/><circle cx="313.4" cy="877.8" r="9.4"/><circle cx="308.0" cy="886.2" r="9.4"/><circle cx="302.2" cy="889.8" r="9.4"/><circle cx="294.4" cy="894.3" r="9.4"/><circle cx="285.8" cy="896.5" r="9.4"/><circle cx="280.0" cy="899.2" r="9.4"/><circle cx="271.2" cy="904.1" r="9.4"/><circle cx="266.4" cy="911.1" r="9.4"/><circle cx="261.9" cy="917.3" r="9.4"/><circle cx="254.5" cy="921.5" r="9.4"/><circle cx="246.4" cy="925.2" r="9.4"/><circle cx="240.0" cy="929.5" r="9.4"/><circle cx="232.7" cy="933.7" r="9.4"/><circle cx="225.5" cy="938.2" r="9.4"/><circle cx="220.4" cy="943.1" r="9.4"/><circle cx="219.7" cy="950.4" r="9.4"/><circle cx="218.7" cy="957.2" r="9.4"/><circle cx="216.4" cy="964.1" r="9.4"/><circle cx="213.5" cy="973.8" r="9.4"/><circle cx="323.1" cy="868.3" r="9.4"/><circle cx="329.1" cy="868.3" r="9.4"/><circle cx="320.1" cy="873.5" r="9.4"/><circle cx="326.1" cy="873.5" r="9.4"/><circle cx="332.1" cy="873.5" r="9.4"/><circle cx="338.1" cy="873.5" r="9.4"/><circle cx="317.1" cy="878.7" r="9.4"/><circle cx="323.1" cy="878.7" r="9.4"/><circle cx="329.1" cy="878.7" r="9.4"/><circle cx="335.1" cy="878.7" r="9.4"/><circle cx="341.1" cy="878.7" r="9.4"/><circle cx="347.1" cy="878.7" r="9.4"/><circle cx="314.1" cy="883.9" r="9.4"/><circle cx="320.1" cy="883.9" r="9.4"/><circle cx="326.1" cy="883.9" r="9.4"/><circle cx="332.1" cy="883.9" r="9.4"/><circle cx="338.1" cy="883.9" r="9.4"/><circle cx="344.1" cy="883.9" r="9.4"/><circle cx="350.1" cy="883.9" r="9.4"/><circle cx="305.1" cy="889.1" r="9.4"/><circle cx="311.1" cy="889.1" r="9.4"/><circle cx="317.1" cy="889.1" r="9.4"/><circle cx="323.1" cy="889.1" r="9.4"/><circle cx="329.1" cy="889.1" r="9.4"/><circle cx="335.1" cy="889.1" r="9.4"/><circle cx="341.1" cy="889.1" r="9.4"/><circle cx="347.1" cy="889.1" r="9.4"/><circle cx="353.1" cy="889.1" r="9.4"/><circle cx="296.1" cy="894.3" r="9.4"/><circle cx="302.1" cy="894.3" r="9.4"/><circle cx="308.1" cy="894.3" r="9.4"/><circle cx="314.1" cy="894.3" r="9.4"/><circle cx="320.1" cy="894.3" r="9.4"/><circle cx="326.1" cy="894.3" r="9.4"/><circle cx="332.1" cy="894.3" r="9.4"/><circle cx="338.1" cy="894.3" r="9.4"/><circle cx="344.1" cy="894.3" r="9.4"/><circle cx="350.1" cy="894.3" r="9.4"/><circle cx="281.1" cy="899.5" r="9.4"/><circle cx="287.1" cy="899.5" r="9.4"/><circle cx="293.1" cy="899.5" r="9.4"/><circle cx="299.1" cy="899.5" r="9.4"/><circle cx="305.1" cy="899.5" r="9.4"/><circle cx="311.1" cy="899.5" r="9.4"/><circle cx="317.1" cy="899.5" r="9.4"/><circle cx="323.1" cy="899.5" r="9.4"/><circle cx="329.1" cy="899.5" r="9.4"/><circle cx="335.1" cy="899.5" r="9.4"/><circle cx="341.1" cy="899.5" r="9.4"/><circle cx="272.1" cy="904.7" r="9.4"/><circle cx="278.1" cy="904.7" r="9.4"/><circle cx="284.1" cy="904.7" r="9.4"/><circle cx="290.1" cy="904.7" r="9.4"/><circle cx="296.1" cy="904.7" r="9.4"/><circle cx="302.1" cy="904.7" r="9.4"/><circle cx="308.1" cy="904.7" r="9.4"/><circle cx="314.1" cy="904.7" r="9.4"/><circle cx="320.1" cy="904.7" r="9.4"/><circle cx="326.1" cy="904.7" r="9.4"/><circle cx="332.1" cy="904.7" r="9.4"/><circle cx="338.1" cy="904.7" r="9.4"/><circle cx="269.1" cy="909.9" r="9.4"/><circle cx="275.1" cy="909.9" r="9.4"/><circle cx="281.1" cy="909.9" r="9.4"/><circle cx="287.1" cy="909.9" r="9.4"/><circle cx="293.1" cy="909.9" r="9.4"/><circle cx="299.1" cy="909.9" r="9.4"/><circle cx="305.1" cy="909.9" r="9.4"/><circle cx="311.1" cy="909.9" r="9.4"/><circle cx="317.1" cy="909.9" r="9.4"/><circle cx="323.1" cy="909.9" r="9.4"/><circle cx="329.1" cy="909.9" r="9.4"/><circle cx="266.1" cy="915.1" r="9.4"/><circle cx="272.1" cy="915.1" r="9.4"/><circle cx="278.1" cy="915.1" r="9.4"/><circle cx="284.1" cy="915.1" r="9.4"/><circle cx="290.1" cy="915.1" r="9.4"/><circle cx="296.1" cy="915.1" r="9.4"/><circle cx="302.1" cy="915.1" r="9.4"/><circle cx="308.1" cy="915.1" r="9.4"/><circle cx="314.1" cy="915.1" r="9.4"/><circle cx="263.1" cy="920.3" r="9.4"/><circle cx="269.1" cy="920.3" r="9.4"/><circle cx="275.1" cy="920.3" r="9.4"/><circle cx="281.1" cy="920.3" r="9.4"/><circle cx="287.1" cy="920.3" r="9.4"/><circle cx="293.1" cy="920.3" r="9.4"/><circle cx="299.1" cy="920.3" r="9.4"/><circle cx="305.1" cy="920.3" r="9.4"/><circle cx="248.1" cy="925.5" r="9.4"/><circle cx="254.1" cy="925.5" r="9.4"/><circle cx="260.1" cy="925.5" r="9.4"/><circle cx="266.1" cy="925.5" r="9.4"/><circle cx="272.1" cy="925.5" r="9.4"/><circle cx="278.1" cy="925.5" r="9.4"/><circle cx="284.1" cy="925.5" r="9.4"/><circle cx="290.1" cy="925.5" r="9.4"/><circle cx="296.1" cy="925.5" r="9.4"/><circle cx="239.1" cy="930.7" r="9.4"/><circle cx="245.1" cy="930.7" r="9.4"/><circle cx="251.1" cy="930.7" r="9.4"/><circle cx="257.1" cy="930.7" r="9.4"/><circle cx="263.1" cy="930.7" r="9.4"/><circle cx="269.1" cy="930.7" r="9.4"/><circle cx="275.1" cy="930.7" r="9.4"/><circle cx="281.1" cy="930.7" r="9.4"/><circle cx="287.1" cy="930.7" r="9.4"/><circle cx="293.1" cy="930.7" r="9.4"/><circle cx="230.1" cy="935.9" r="9.4"/><circle cx="236.1" cy="935.9" r="9.4"/><circle cx="242.1" cy="935.9" r="9.4"/><circle cx="248.1" cy="935.9" r="9.4"/><circle cx="254.1" cy="935.9" r="9.4"/><circle cx="260.1" cy="935.9" r="9.4"/><circle cx="266.1" cy="935.9" r="9.4"/><circle cx="272.1" cy="935.9" r="9.4"/><circle cx="278.1" cy="935.9" r="9.4"/><circle cx="284.1" cy="935.9" r="9.4"/><circle cx="290.1" cy="935.9" r="9.4"/><circle cx="296.1" cy="935.9" r="9.4"/><circle cx="221.1" cy="941.1" r="9.4"/><circle cx="227.1" cy="941.1" r="9.4"/><circle cx="233.1" cy="941.1" r="9.4"/><circle cx="239.1" cy="941.1" r="9.4"/><circle cx="245.1" cy="941.1" r="9.4"/><circle cx="251.1" cy="941.1" r="9.4"/><circle cx="257.1" cy="941.1" r="9.4"/><circle cx="263.1" cy="941.1" r="9.4"/><circle cx="269.1" cy="941.1" r="9.4"/><circle cx="275.1" cy="941.1" r="9.4"/><circle cx="281.1" cy="941.1" r="9.4"/><circle cx="287.1" cy="941.1" r="9.4"/><circle cx="224.1" cy="946.3" r="9.4"/><circle cx="230.1" cy="946.3" r="9.4"/><circle cx="236.1" cy="946.3" r="9.4"/><circle cx="242.1" cy="946.3" r="9.4"/><circle cx="248.1" cy="946.3" r="9.4"/><circle cx="254.1" cy="946.3" r="9.4"/><circle cx="260.1" cy="946.3" r="9.4"/><circle cx="221.1" cy="951.4" r="9.4"/><circle cx="227.1" cy="951.4" r="9.4"/><circle cx="233.1" cy="951.4" r="9.4"/><circle cx="239.1" cy="951.4" r="9.4"/><circle cx="245.1" cy="951.4" r="9.4"/><circle cx="251.1" cy="951.4" r="9.4"/><circle cx="257.1" cy="951.4" r="9.4"/><circle cx="224.1" cy="956.6" r="9.4"/><circle cx="230.1" cy="956.6" r="9.4"/><circle cx="221.1" cy="961.8" r="9.4"/><circle cx="227.1" cy="961.8" r="9.4"/><circle cx="233.1" cy="961.8" r="9.4"/><circle cx="218.1" cy="967.0" r="9.4"/><circle cx="224.1" cy="967.0" r="9.4"/><circle cx="230.1" cy="967.0" r="9.4"/><circle cx="215.1" cy="972.2" r="9.4"/><circle cx="221.1" cy="972.2" r="9.4"/><circle cx="227.1" cy="972.2" r="9.4"/><circle cx="218.1" cy="977.4" r="9.4"/><circle cx="224.1" cy="977.4" r="9.4"/><circle cx="233.3" cy="972.6" r="9.4"/><circle cx="335.2" cy="863.4" r="9.4"/><circle cx="252.5" cy="959.8" r="9.4"/><circle cx="352.7" cy="874.9" r="9.4"/><circle cx="218.3" cy="940.6" r="9.4"/><circle cx="306.5" cy="883.8" r="9.4"/><circle cx="217.4" cy="984.4" r="9.4"/><circle cx="323.5" cy="860.5" r="9.4"/><circle cx="230.3" cy="931.9" r="9.4"/><circle cx="263.9" cy="910.7" r="9.4"/><circle cx="297.4" cy="890.5" r="9.4"/><circle cx="292.9" cy="943.8" r="9.4"/><circle cx="211.7" cy="987.0" r="9.4"/><circle cx="349.5" cy="871.9" r="9.4"/><circle cx="355.8" cy="893.3" r="9.4"/><circle cx="276.5" cy="944.7" r="9.4"/><circle cx="216.3" cy="950.9" r="9.4"/><circle cx="224.8" cy="980.1" r="9.4"/><circle cx="304.8" cy="925.8" r="9.4"/><circle cx="341.6" cy="907.7" r="9.4"/><circle cx="342.9" cy="903.7" r="9.4"/><circle cx="272.7" cy="901.3" r="9.4"/><circle cx="317.7" cy="867.7" r="9.4"/><circle cx="311.6" cy="875.2" r="9.4"/><circle cx="357.1" cy="885.7" r="9.4"/><circle cx="266.4" cy="906.7" r="9.4"/><circle cx="290.1" cy="892.5" r="9.4"/></g>
<g fill="#fff" stroke="#000" stroke-width="2.8"><circle cx="325.2" cy="675.4" r="8.1"/><circle cx="236.7" cy="829.5" r="8.1"/><circle cx="278.2" cy="841.8" r="8.1"/></g>
<line x1="236.1" y1="859.6" x2="325.2" y2="700.5" stroke="#000" stroke-width="2.3"/>
<rect x="650.0" y="627.8" width="362.1" height="362.3" fill="none" stroke="#000" stroke-width="5.7" stroke-linejoin="round"/>
<line x1="650.0" y1="688.3" x2="662.5" y2="688.3" stroke="#000" stroke-width="5.2"/>
<line x1="650.0" y1="748.8" x2="662.5" y2="748.8" stroke="#000" stroke-width="5.2"/>
<line x1="650.0" y1="808.6" x2="662.5" y2="808.6" stroke="#000" stroke-width="5.2"/>
<line x1="650.0" y1="868.8" x2="662.5" y2="868.8" stroke="#000" stroke-width="5.2"/>
<line x1="650.0" y1="929.3" x2="662.5" y2="929.3" stroke="#000" stroke-width="5.2"/>
<line x1="770.9" y1="990.1" x2="770.9" y2="977.6" stroke="#000" stroke-width="5.2"/>
<line x1="891.6" y1="990.1" x2="891.6" y2="977.6" stroke="#000" stroke-width="5.2"/>
<text transform="translate(631.6,643.7) scale(1,1.045)" text-anchor="end" font-size="41.3">6</text>
<text transform="translate(631.6,704.2) scale(1,1.045)" text-anchor="end" font-size="41.3">5</text>
<text transform="translate(631.6,764.0) scale(1,1.045)" text-anchor="end" font-size="41.3">4</text>
<text transform="translate(631.6,824.2) scale(1,1.045)" text-anchor="end" font-size="41.3">3</text>
<text transform="translate(631.6,884.4) scale(1,1.045)" text-anchor="end" font-size="41.3">2</text>
<text transform="translate(631.6,944.7) scale(1,1.045)" text-anchor="end" font-size="41.3">1</text>
<text transform="translate(650.3,1032.3) scale(1,1.045)" text-anchor="middle" font-size="41.3">0</text>
<text transform="translate(770.3,1032.3) scale(1,1.045)" text-anchor="middle" font-size="41.3">1</text>
<text transform="translate(890.9,1032.3) scale(1,1.045)" text-anchor="middle" font-size="41.3">2</text>
<text transform="translate(1012.2,1032.3) scale(1,1.045)" text-anchor="middle" font-size="41.3">3</text>
<text transform="translate(829.6,621.0) scale(1,1.045)" text-anchor="middle" font-size="41.3">B-GC88T</text>
<text transform="translate(877.0,742.0) scale(1,1.045)" text-anchor="middle" font-size="41.3">4.8-fold</text>
<line x1="863.0" y1="898.7" x2="946.6" y2="867.7" stroke="#000" stroke-width="2.3"/>
<g fill="#000"><circle cx="863.0" cy="850.4" r="9.4"/><circle cx="877.8" cy="859.1" r="9.4"/><circle cx="883.9" cy="867.7" r="9.4"/><circle cx="882.1" cy="887.7" r="9.4"/><circle cx="853.1" cy="871.2" r="9.4"/><circle cx="839.6" cy="878.1" r="9.4"/><circle cx="842.2" cy="890.3" r="9.4"/><circle cx="865.6" cy="899.0" r="9.4"/><circle cx="886.5" cy="905.9" r="9.4"/><circle cx="876.9" cy="911.1" r="9.4"/><circle cx="804.0" cy="875.5" r="9.4"/><circle cx="815.3" cy="882.5" r="9.4"/><circle cx="804.9" cy="885.1" r="9.4"/><circle cx="813.6" cy="892.9" r="9.4"/><circle cx="775.0" cy="885.6" r="9.4"/><circle cx="778.9" cy="899.8" r="9.4"/><circle cx="751.1" cy="898.1" r="9.4"/><circle cx="745.5" cy="912.0" r="9.4"/><circle cx="765.0" cy="905.9" r="9.4"/><circle cx="868.2" cy="931.1" r="9.4"/><circle cx="718.5" cy="938.9" r="9.4"/><circle cx="700.7" cy="945.0" r="9.4"/><circle cx="690.3" cy="955.4" r="9.4"/><circle cx="862.2" cy="935.4" r="9.4"/><circle cx="850.9" cy="939.8" r="9.4"/><circle cx="840.5" cy="938.0" r="9.4"/><circle cx="824.0" cy="944.1" r="9.4"/><circle cx="808.4" cy="951.9" r="9.4"/><circle cx="799.7" cy="951.9" r="9.4"/><circle cx="779.7" cy="950.2" r="9.4"/><circle cx="745.9" cy="964.1" r="9.4"/><circle cx="754.6" cy="958.9" r="9.4"/><circle cx="914.9" cy="841.2" r="9.4"/><circle cx="946.2" cy="843.3" r="9.4"/><circle cx="939.5" cy="896.2" r="9.4"/><circle cx="661.3" cy="985.7" r="9.4"/><circle cx="669.8" cy="983.6" r="9.4"/><circle cx="677.7" cy="981.2" r="9.4"/><circle cx="684.5" cy="978.0" r="9.4"/><circle cx="690.5" cy="976.9" r="9.4"/><circle cx="699.6" cy="973.3" r="9.4"/><circle cx="707.9" cy="968.9" r="9.4"/><circle cx="715.1" cy="964.8" r="9.4"/><circle cx="721.7" cy="963.9" r="9.4"/><circle cx="730.2" cy="963.5" r="9.4"/><circle cx="738.0" cy="962.2" r="9.4"/><circle cx="744.4" cy="963.4" r="9.4"/><circle cx="753.2" cy="957.9" r="9.4"/><circle cx="759.6" cy="952.6" r="9.4"/><circle cx="764.9" cy="950.1" r="9.4"/><circle cx="773.7" cy="949.5" r="9.4"/><circle cx="780.8" cy="947.9" r="9.4"/><circle cx="789.8" cy="946.2" r="9.4"/><circle cx="795.8" cy="949.2" r="9.4"/><circle cx="804.8" cy="950.6" r="9.4"/><circle cx="811.3" cy="947.1" r="9.4"/><circle cx="817.0" cy="945.7" r="9.4"/><circle cx="823.1" cy="940.6" r="9.4"/><circle cx="829.8" cy="933.4" r="9.4"/><circle cx="835.4" cy="932.6" r="9.4"/><circle cx="843.0" cy="937.2" r="9.4"/><circle cx="850.1" cy="939.4" r="9.4"/><circle cx="858.8" cy="936.1" r="9.4"/><circle cx="864.9" cy="933.3" r="9.4"/><circle cx="855.6" cy="929.9" r="9.4"/><circle cx="852.3" cy="922.3" r="9.4"/><circle cx="852.1" cy="914.9" r="9.4"/><circle cx="846.4" cy="912.3" r="9.4"/><circle cx="839.8" cy="910.2" r="9.4"/><circle cx="832.3" cy="910.6" r="9.4"/><circle cx="827.0" cy="916.9" r="9.4"/><circle cx="820.0" cy="918.9" r="9.4"/><circle cx="813.9" cy="919.4" r="9.4"/><circle cx="807.8" cy="922.9" r="9.4"/><circle cx="798.2" cy="926.5" r="9.4"/><circle cx="791.9" cy="926.1" r="9.4"/><circle cx="784.9" cy="920.6" r="9.4"/><circle cx="777.8" cy="914.2" r="9.4"/><circle cx="774.9" cy="908.5" r="9.4"/><circle cx="768.2" cy="907.7" r="9.4"/><circle cx="765.2" cy="913.8" r="9.4"/><circle cx="763.4" cy="922.6" r="9.4"/><circle cx="759.9" cy="930.3" r="9.4"/><circle cx="753.7" cy="935.4" r="9.4"/><circle cx="747.1" cy="938.4" r="9.4"/><circle cx="738.8" cy="942.5" r="9.4"/><circle cx="734.0" cy="946.1" r="9.4"/><circle cx="725.8" cy="947.3" r="9.4"/><circle cx="717.7" cy="943.4" r="9.4"/><circle cx="713.6" cy="949.0" r="9.4"/><circle cx="704.8" cy="948.1" r="9.4"/><circle cx="699.0" cy="949.4" r="9.4"/><circle cx="692.9" cy="956.9" r="9.4"/><circle cx="690.8" cy="961.9" r="9.4"/><circle cx="689.9" cy="969.9" r="9.4"/><circle cx="681.3" cy="976.1" r="9.4"/><circle cx="677.0" cy="977.9" r="9.4"/><circle cx="670.5" cy="981.6" r="9.4"/><circle cx="766.8" cy="913.1" r="9.4"/><circle cx="772.8" cy="913.1" r="9.4"/><circle cx="832.8" cy="913.1" r="9.4"/><circle cx="838.8" cy="913.1" r="9.4"/><circle cx="844.8" cy="913.1" r="9.4"/><circle cx="769.8" cy="918.3" r="9.4"/><circle cx="775.8" cy="918.3" r="9.4"/><circle cx="829.8" cy="918.3" r="9.4"/><circle cx="835.8" cy="918.3" r="9.4"/><circle cx="841.8" cy="918.3" r="9.4"/><circle cx="847.8" cy="918.3" r="9.4"/><circle cx="766.8" cy="923.5" r="9.4"/><circle cx="772.8" cy="923.5" r="9.4"/><circle cx="778.8" cy="923.5" r="9.4"/><circle cx="784.8" cy="923.5" r="9.4"/><circle cx="808.8" cy="923.5" r="9.4"/><circle cx="814.8" cy="923.5" r="9.4"/><circle cx="820.8" cy="923.5" r="9.4"/><circle cx="826.8" cy="923.5" r="9.4"/><circle cx="832.8" cy="923.5" r="9.4"/><circle cx="838.8" cy="923.5" r="9.4"/><circle cx="844.8" cy="923.5" r="9.4"/><circle cx="850.8" cy="923.5" r="9.4"/><circle cx="763.8" cy="928.7" r="9.4"/><circle cx="769.8" cy="928.7" r="9.4"/><circle cx="775.8" cy="928.7" r="9.4"/><circle cx="781.8" cy="928.7" r="9.4"/><circle cx="787.8" cy="928.7" r="9.4"/><circle cx="793.8" cy="928.7" r="9.4"/><circle cx="799.8" cy="928.7" r="9.4"/><circle cx="805.8" cy="928.7" r="9.4"/><circle cx="811.8" cy="928.7" r="9.4"/><circle cx="817.8" cy="928.7" r="9.4"/><circle cx="823.8" cy="928.7" r="9.4"/><circle cx="829.8" cy="928.7" r="9.4"/><circle cx="835.8" cy="928.7" r="9.4"/><circle cx="841.8" cy="928.7" r="9.4"/><circle cx="847.8" cy="928.7" r="9.4"/><circle cx="853.8" cy="928.7" r="9.4"/><circle cx="760.8" cy="933.9" r="9.4"/><circle cx="766.8" cy="933.9" r="9.4"/><circle cx="772.8" cy="933.9" r="9.4"/><circle cx="778.8" cy="933.9" r="9.4"/><circle cx="784.8" cy="933.9" r="9.4"/><circle cx="790.8" cy="933.9" r="9.4"/><circle cx="796.8" cy="933.9" r="9.4"/><circle cx="802.8" cy="933.9" r="9.4"/><circle cx="808.8" cy="933.9" r="9.4"/><circle cx="814.8" cy="933.9" r="9.4"/><circle cx="820.8" cy="933.9" r="9.4"/><circle cx="826.8" cy="933.9" r="9.4"/><circle cx="838.8" cy="933.9" r="9.4"/><circle cx="844.8" cy="933.9" r="9.4"/><circle cx="850.8" cy="933.9" r="9.4"/><circle cx="856.8" cy="933.9" r="9.4"/><circle cx="745.8" cy="939.1" r="9.4"/><circle cx="751.8" cy="939.1" r="9.4"/><circle cx="757.8" cy="939.1" r="9.4"/><circle cx="763.8" cy="939.1" r="9.4"/><circle cx="769.8" cy="939.1" r="9.4"/><circle cx="775.8" cy="939.1" r="9.4"/><circle cx="781.8" cy="939.1" r="9.4"/><circle cx="787.8" cy="939.1" r="9.4"/><circle cx="793.8" cy="939.1" r="9.4"/><circle cx="799.8" cy="939.1" r="9.4"/><circle cx="805.8" cy="939.1" r="9.4"/><circle cx="811.8" cy="939.1" r="9.4"/><circle cx="817.8" cy="939.1" r="9.4"/><circle cx="718.8" cy="944.3" r="9.4"/><circle cx="736.8" cy="944.3" r="9.4"/><circle cx="742.8" cy="944.3" r="9.4"/><circle cx="748.8" cy="944.3" r="9.4"/><circle cx="754.8" cy="944.3" r="9.4"/><circle cx="760.8" cy="944.3" r="9.4"/><circle cx="766.8" cy="944.3" r="9.4"/><circle cx="772.8" cy="944.3" r="9.4"/><circle cx="778.8" cy="944.3" r="9.4"/><circle cx="784.8" cy="944.3" r="9.4"/><circle cx="790.8" cy="944.3" r="9.4"/><circle cx="796.8" cy="944.3" r="9.4"/><circle cx="802.8" cy="944.3" r="9.4"/><circle cx="808.8" cy="944.3" r="9.4"/><circle cx="814.8" cy="944.3" r="9.4"/><circle cx="703.8" cy="949.5" r="9.4"/><circle cx="709.8" cy="949.5" r="9.4"/><circle cx="715.8" cy="949.5" r="9.4"/><circle cx="721.8" cy="949.5" r="9.4"/><circle cx="727.8" cy="949.5" r="9.4"/><circle cx="733.8" cy="949.5" r="9.4"/><circle cx="739.8" cy="949.5" r="9.4"/><circle cx="745.8" cy="949.5" r="9.4"/><circle cx="751.8" cy="949.5" r="9.4"/><circle cx="757.8" cy="949.5" r="9.4"/><circle cx="763.8" cy="949.5" r="9.4"/><circle cx="799.8" cy="949.5" r="9.4"/><circle cx="805.8" cy="949.5" r="9.4"/><circle cx="700.8" cy="954.7" r="9.4"/><circle cx="706.8" cy="954.7" r="9.4"/><circle cx="712.8" cy="954.7" r="9.4"/><circle cx="718.8" cy="954.7" r="9.4"/><circle cx="724.8" cy="954.7" r="9.4"/><circle cx="730.8" cy="954.7" r="9.4"/><circle cx="736.8" cy="954.7" r="9.4"/><circle cx="742.8" cy="954.7" r="9.4"/><circle cx="748.8" cy="954.7" r="9.4"/><circle cx="754.8" cy="954.7" r="9.4"/><circle cx="691.8" cy="959.9" r="9.4"/><circle cx="697.8" cy="959.9" r="9.4"/><circle cx="703.8" cy="959.9" r="9.4"/><circle cx="709.8" cy="959.9" r="9.4"/><circle cx="715.8" cy="959.9" r="9.4"/><circle cx="721.8" cy="959.9" r="9.4"/><circle cx="727.8" cy="959.9" r="9.4"/><circle cx="733.8" cy="959.9" r="9.4"/><circle cx="739.8" cy="959.9" r="9.4"/><circle cx="745.8" cy="959.9" r="9.4"/><circle cx="694.8" cy="965.1" r="9.4"/><circle cx="700.8" cy="965.1" r="9.4"/><circle cx="706.8" cy="965.1" r="9.4"/><circle cx="712.8" cy="965.1" r="9.4"/><circle cx="691.8" cy="970.3" r="9.4"/><circle cx="697.8" cy="970.3" r="9.4"/><circle cx="703.8" cy="970.3" r="9.4"/><circle cx="682.8" cy="975.5" r="9.4"/><circle cx="688.8" cy="975.5" r="9.4"/><circle cx="673.8" cy="980.7" r="9.4"/><circle cx="779.1" cy="905.0" r="9.4"/><circle cx="657.4" cy="987.5" r="9.4"/><circle cx="863.5" cy="929.6" r="9.4"/><circle cx="842.3" cy="907.3" r="9.4"/><circle cx="778.7" cy="950.7" r="9.4"/><circle cx="716.6" cy="940.1" r="9.4"/><circle cx="808.9" cy="950.9" r="9.4"/><circle cx="700.4" cy="945.5" r="9.4"/><circle cx="780.2" cy="903.1" r="9.4"/><circle cx="855.7" cy="916.8" r="9.4"/><circle cx="667.6" cy="987.2" r="9.4"/><circle cx="815.8" cy="915.9" r="9.4"/><circle cx="797.1" cy="952.3" r="9.4"/><circle cx="706.9" cy="973.6" r="9.4"/><circle cx="868.3" cy="932.9" r="9.4"/><circle cx="765.1" cy="906.6" r="9.4"/><circle cx="756.3" cy="960.0" r="9.4"/><circle cx="687.3" cy="959.2" r="9.4"/><circle cx="752.2" cy="934.1" r="9.4"/><circle cx="825.6" cy="942.6" r="9.4"/><circle cx="800.0" cy="923.3" r="9.4"/><circle cx="778.8" cy="899.1" r="9.4"/><circle cx="841.7" cy="938.3" r="9.4"/><circle cx="722.7" cy="967.0" r="9.4"/><circle cx="733.8" cy="943.4" r="9.4"/><circle cx="674.5" cy="984.0" r="9.4"/><circle cx="841.2" cy="904.9" r="9.4"/><circle cx="738.8" cy="964.4" r="9.4"/><circle cx="749.4" cy="964.0" r="9.4"/><circle cx="674.3" cy="976.8" r="9.4"/><circle cx="801.4" cy="953.2" r="9.4"/></g>
<g fill="#fff" stroke="#000" stroke-width="2.8"><circle cx="794.8" cy="693.5" r="8.1"/><circle cx="707.6" cy="858.4" r="8.1"/><circle cx="708.4" cy="865.4" r="8.1"/></g>
<line x1="707.6" y1="863.8" x2="794.2" y2="694.4" stroke="#000" stroke-width="2.3"/>
<rect x="205.5" y="1158.9" width="362.5" height="361.8" fill="none" stroke="#000" stroke-width="5.7" stroke-linejoin="round"/>
<line x1="205.5" y1="1199.7" x2="218.0" y2="1199.7" stroke="#000" stroke-width="5.2"/>
<line x1="205.5" y1="1279.9" x2="218.0" y2="1279.9" stroke="#000" stroke-width="5.2"/>
<line x1="205.5" y1="1360.6" x2="218.0" y2="1360.6" stroke="#000" stroke-width="5.2"/>
<line x1="205.5" y1="1440.4" x2="218.0" y2="1440.4" stroke="#000" stroke-width="5.2"/>
<line x1="386.3" y1="1520.7" x2="386.3" y2="1508.2" stroke="#000" stroke-width="5.2"/>
<line x1="477.9" y1="1520.7" x2="477.9" y2="1508.2" stroke="#000" stroke-width="5.2"/>
<text transform="translate(195.8,1214.8) scale(1,1.045)" text-anchor="end" font-size="41.3">80</text>
<text transform="translate(195.8,1297.1) scale(1,1.045)" text-anchor="end" font-size="41.3">60</text>
<text transform="translate(195.8,1377.8) scale(1,1.045)" text-anchor="end" font-size="41.3">40</text>
<text transform="translate(195.8,1457.1) scale(1,1.045)" text-anchor="end" font-size="41.3">20</text>
<text transform="translate(204.7,1566.1) scale(1,1.045)" text-anchor="middle" font-size="41.3">0</text>
<text transform="translate(296.2,1566.1) scale(1,1.045)" text-anchor="middle" font-size="41.3">5</text>
<text transform="translate(386.5,1566.1) scale(1,1.045)" text-anchor="middle" font-size="41.3">10</text>
<text transform="translate(476.8,1566.1) scale(1,1.045)" text-anchor="middle" font-size="41.3">15</text>
<text transform="translate(567.8,1566.1) scale(1,1.045)" text-anchor="middle" font-size="41.3">20</text>
<text transform="translate(379.2,1152.2) scale(1,1.045)" text-anchor="middle" font-size="41.3">B-GC38T</text>
<text transform="translate(389.2,1264.2) scale(1,1.045)" text-anchor="middle" font-size="41.3">7.9-fold</text>
<line x1="320.0" y1="1479.6" x2="520.8" y2="1420.8" stroke="#000" stroke-width="2.3"/>
<g fill="#000"><circle cx="376.5" cy="1413.8" r="9.4"/><circle cx="410.0" cy="1410.0" r="9.4"/><circle cx="392.3" cy="1427.6" r="9.4"/><circle cx="367.0" cy="1428.4" r="9.4"/><circle cx="376.9" cy="1434.5" r="9.4"/><circle cx="344.7" cy="1433.8" r="9.4"/><circle cx="410.7" cy="1442.2" r="9.4"/><circle cx="384.6" cy="1444.5" r="9.4"/><circle cx="388.5" cy="1454.5" r="9.4"/><circle cx="376.2" cy="1457.6" r="9.4"/><circle cx="406.9" cy="1470.6" r="9.4"/><circle cx="393.1" cy="1505.2" r="9.4"/><circle cx="412.3" cy="1502.9" r="9.4"/><circle cx="372.3" cy="1484.4" r="9.4"/><circle cx="365.4" cy="1468.3" r="9.4"/><circle cx="375.4" cy="1469.8" r="9.4"/><circle cx="308.9" cy="1456.8" r="9.4"/><circle cx="332.4" cy="1456.0" r="9.4"/><circle cx="300.2" cy="1469.1" r="9.4"/><circle cx="324.0" cy="1462.2" r="9.4"/><circle cx="344.7" cy="1469.1" r="9.4"/><circle cx="521.1" cy="1424.9" r="9.4"/><circle cx="465.6" cy="1406.7" r="9.4"/><circle cx="461.8" cy="1424.9" r="9.4"/><circle cx="428.5" cy="1413.9" r="9.4"/><circle cx="453.8" cy="1486.0" r="9.4"/><circle cx="212.6" cy="1520.2" r="9.4"/><circle cx="219.1" cy="1520.4" r="9.4"/><circle cx="225.6" cy="1520.6" r="9.4"/><circle cx="233.6" cy="1519.3" r="9.4"/><circle cx="242.4" cy="1517.6" r="9.4"/><circle cx="250.5" cy="1518.0" r="9.4"/><circle cx="259.3" cy="1515.5" r="9.4"/><circle cx="265.8" cy="1515.4" r="9.4"/><circle cx="276.1" cy="1513.9" r="9.4"/><circle cx="283.9" cy="1513.9" r="9.4"/><circle cx="290.9" cy="1511.6" r="9.4"/><circle cx="298.0" cy="1507.6" r="9.4"/><circle cx="304.8" cy="1505.8" r="9.4"/><circle cx="311.9" cy="1501.7" r="9.4"/><circle cx="317.5" cy="1497.5" r="9.4"/><circle cx="328.2" cy="1499.4" r="9.4"/><circle cx="335.1" cy="1500.0" r="9.4"/><circle cx="339.5" cy="1496.3" r="9.4"/><circle cx="344.9" cy="1488.0" r="9.4"/><circle cx="352.4" cy="1484.7" r="9.4"/><circle cx="358.1" cy="1480.8" r="9.4"/><circle cx="366.9" cy="1478.2" r="9.4"/><circle cx="363.0" cy="1474.1" r="9.4"/><circle cx="357.7" cy="1478.1" r="9.4"/><circle cx="348.5" cy="1477.3" r="9.4"/><circle cx="344.3" cy="1470.7" r="9.4"/><circle cx="337.1" cy="1468.3" r="9.4"/><circle cx="332.7" cy="1461.9" r="9.4"/><circle cx="327.9" cy="1462.6" r="9.4"/><circle cx="323.3" cy="1466.3" r="9.4"/><circle cx="313.9" cy="1465.1" r="9.4"/><circle cx="309.6" cy="1463.5" r="9.4"/><circle cx="303.2" cy="1469.1" r="9.4"/><circle cx="305.0" cy="1472.1" r="9.4"/><circle cx="309.4" cy="1479.2" r="9.4"/><circle cx="306.1" cy="1485.5" r="9.4"/><circle cx="297.6" cy="1488.6" r="9.4"/><circle cx="290.1" cy="1492.6" r="9.4"/><circle cx="284.8" cy="1494.0" r="9.4"/><circle cx="277.0" cy="1493.4" r="9.4"/><circle cx="268.4" cy="1497.3" r="9.4"/><circle cx="261.9" cy="1502.8" r="9.4"/><circle cx="256.6" cy="1505.3" r="9.4"/><circle cx="245.9" cy="1506.6" r="9.4"/><circle cx="239.9" cy="1508.9" r="9.4"/><circle cx="232.2" cy="1510.1" r="9.4"/><circle cx="224.0" cy="1513.1" r="9.4"/><circle cx="217.3" cy="1515.2" r="9.4"/><circle cx="310.1" cy="1463.6" r="9.4"/><circle cx="328.1" cy="1463.6" r="9.4"/><circle cx="307.1" cy="1468.8" r="9.4"/><circle cx="313.1" cy="1468.8" r="9.4"/><circle cx="319.1" cy="1468.8" r="9.4"/><circle cx="325.1" cy="1468.8" r="9.4"/><circle cx="331.1" cy="1468.8" r="9.4"/><circle cx="337.1" cy="1468.8" r="9.4"/><circle cx="310.1" cy="1473.9" r="9.4"/><circle cx="316.1" cy="1473.9" r="9.4"/><circle cx="322.1" cy="1473.9" r="9.4"/><circle cx="328.1" cy="1473.9" r="9.4"/><circle cx="334.1" cy="1473.9" r="9.4"/><circle cx="340.1" cy="1473.9" r="9.4"/><circle cx="313.1" cy="1479.1" r="9.4"/><circle cx="319.1" cy="1479.1" r="9.4"/><circle cx="325.1" cy="1479.1" r="9.4"/><circle cx="331.1" cy="1479.1" r="9.4"/><circle cx="337.1" cy="1479.1" r="9.4"/><circle cx="343.1" cy="1479.1" r="9.4"/><circle cx="349.1" cy="1479.1" r="9.4"/><circle cx="361.1" cy="1479.1" r="9.4"/><circle cx="310.1" cy="1484.3" r="9.4"/><circle cx="316.1" cy="1484.3" r="9.4"/><circle cx="322.1" cy="1484.3" r="9.4"/><circle cx="328.1" cy="1484.3" r="9.4"/><circle cx="334.1" cy="1484.3" r="9.4"/><circle cx="340.1" cy="1484.3" r="9.4"/><circle cx="346.1" cy="1484.3" r="9.4"/><circle cx="352.1" cy="1484.3" r="9.4"/><circle cx="301.1" cy="1489.5" r="9.4"/><circle cx="307.1" cy="1489.5" r="9.4"/><circle cx="313.1" cy="1489.5" r="9.4"/><circle cx="319.1" cy="1489.5" r="9.4"/><circle cx="325.1" cy="1489.5" r="9.4"/><circle cx="331.1" cy="1489.5" r="9.4"/><circle cx="337.1" cy="1489.5" r="9.4"/><circle cx="343.1" cy="1489.5" r="9.4"/><circle cx="274.1" cy="1494.7" r="9.4"/><circle cx="280.1" cy="1494.7" r="9.4"/><circle cx="286.1" cy="1494.7" r="9.4"/><circle cx="292.1" cy="1494.7" r="9.4"/><circle cx="298.1" cy="1494.7" r="9.4"/><circle cx="304.1" cy="1494.7" r="9.4"/><circle cx="310.1" cy="1494.7" r="9.4"/><circle cx="316.1" cy="1494.7" r="9.4"/><circle cx="322.1" cy="1494.7" r="9.4"/><circle cx="328.1" cy="1494.7" r="9.4"/><circle cx="334.1" cy="1494.7" r="9.4"/><circle cx="271.1" cy="1499.9" r="9.4"/><circle cx="277.1" cy="1499.9" r="9.4"/><circle cx="283.1" cy="1499.9" r="9.4"/><circle cx="289.1" cy="1499.9" r="9.4"/><circle cx="295.1" cy="1499.9" r="9.4"/><circle cx="301.1" cy="1499.9" r="9.4"/><circle cx="307.1" cy="1499.9" r="9.4"/><circle cx="313.1" cy="1499.9" r="9.4"/><circle cx="331.1" cy="1499.9" r="9.4"/><circle cx="250.1" cy="1505.1" r="9.4"/><circle cx="262.1" cy="1505.1" r="9.4"/><circle cx="268.1" cy="1505.1" r="9.4"/><circle cx="274.1" cy="1505.1" r="9.4"/><circle cx="280.1" cy="1505.1" r="9.4"/><circle cx="286.1" cy="1505.1" r="9.4"/><circle cx="292.1" cy="1505.1" r="9.4"/><circle cx="298.1" cy="1505.1" r="9.4"/><circle cx="304.1" cy="1505.1" r="9.4"/><circle cx="235.1" cy="1510.3" r="9.4"/><circle cx="241.1" cy="1510.3" r="9.4"/><circle cx="247.1" cy="1510.3" r="9.4"/><circle cx="253.1" cy="1510.3" r="9.4"/><circle cx="259.1" cy="1510.3" r="9.4"/><circle cx="265.1" cy="1510.3" r="9.4"/><circle cx="271.1" cy="1510.3" r="9.4"/><circle cx="277.1" cy="1510.3" r="9.4"/><circle cx="283.1" cy="1510.3" r="9.4"/><circle cx="289.1" cy="1510.3" r="9.4"/><circle cx="220.1" cy="1515.5" r="9.4"/><circle cx="226.1" cy="1515.5" r="9.4"/><circle cx="232.1" cy="1515.5" r="9.4"/><circle cx="238.1" cy="1515.5" r="9.4"/><circle cx="244.1" cy="1515.5" r="9.4"/><circle cx="250.1" cy="1515.5" r="9.4"/><circle cx="256.1" cy="1515.5" r="9.4"/><circle cx="262.1" cy="1515.5" r="9.4"/><circle cx="217.1" cy="1520.7" r="9.4"/><circle cx="223.1" cy="1520.7" r="9.4"/><circle cx="370.2" cy="1483.6" r="9.4"/><circle cx="310.4" cy="1459.6" r="9.4"/><circle cx="334.3" cy="1457.1" r="9.4"/><circle cx="210.0" cy="1519.8" r="9.4"/><circle cx="362.9" cy="1470.2" r="9.4"/><circle cx="298.4" cy="1471.2" r="9.4"/><circle cx="308.5" cy="1456.1" r="9.4"/><circle cx="276.2" cy="1491.9" r="9.4"/><circle cx="252.3" cy="1520.0" r="9.4"/><circle cx="373.1" cy="1484.0" r="9.4"/><circle cx="212.1" cy="1525.1" r="9.4"/><circle cx="225.1" cy="1509.9" r="9.4"/><circle cx="326.4" cy="1502.9" r="9.4"/><circle cx="247.3" cy="1501.0" r="9.4"/><circle cx="331.2" cy="1457.2" r="9.4"/><circle cx="268.6" cy="1518.2" r="9.4"/><circle cx="297.4" cy="1510.2" r="9.4"/><circle cx="340.7" cy="1499.6" r="9.4"/><circle cx="213.8" cy="1513.5" r="9.4"/><circle cx="363.0" cy="1467.2" r="9.4"/><circle cx="350.3" cy="1488.3" r="9.4"/><circle cx="345.8" cy="1469.0" r="9.4"/><circle cx="279.1" cy="1490.8" r="9.4"/></g>
<g fill="#fff" stroke="#000" stroke-width="2.8"><circle cx="307.4" cy="1177.6" r="8.1"/><circle cx="275.1" cy="1286.6" r="8.1"/><circle cx="295.1" cy="1348.7" r="8.1"/><circle cx="256.7" cy="1360.9" r="8.1"/><circle cx="280.3" cy="1379.4" r="8.1"/><circle cx="239.2" cy="1423.3" r="8.1"/><circle cx="228.1" cy="1440.8" r="8.1"/></g>
<line x1="227.5" y1="1445.4" x2="307.4" y2="1247.3" stroke="#000" stroke-width="2.3"/>
<rect x="650.0" y="1158.9" width="362.6" height="362.0" fill="none" stroke="#000" stroke-width="5.7" stroke-linejoin="round"/>
<line x1="650.0" y1="1199.7" x2="662.5" y2="1199.7" stroke="#000" stroke-width="5.2"/>
<line x1="650.0" y1="1279.6" x2="662.5" y2="1279.6" stroke="#000" stroke-width="5.2"/>
<line x1="650.0" y1="1359.4" x2="662.5" y2="1359.4" stroke="#000" stroke-width="5.2"/>
<line x1="650.0" y1="1440.8" x2="662.5" y2="1440.8" stroke="#000" stroke-width="5.2"/>
<line x1="770.7" y1="1520.9" x2="770.7" y2="1508.4" stroke="#000" stroke-width="5.2"/>
<line x1="891.7" y1="1520.9" x2="891.7" y2="1508.4" stroke="#000" stroke-width="5.2"/>
<text transform="translate(634.1,1216.8) scale(1,1.045)" text-anchor="end" font-size="41.3">8</text>
<text transform="translate(634.1,1297.1) scale(1,1.045)" text-anchor="end" font-size="41.3">6</text>
<text transform="translate(634.1,1377.9) scale(1,1.045)" text-anchor="end" font-size="41.3">4</text>
<text transform="translate(634.1,1458.0) scale(1,1.045)" text-anchor="end" font-size="41.3">2</text>
<text transform="translate(649.2,1566.1) scale(1,1.045)" text-anchor="middle" font-size="41.3">0</text>
<text transform="translate(770.0,1566.1) scale(1,1.045)" text-anchor="middle" font-size="41.3">1</text>
<text transform="translate(891.1,1566.1) scale(1,1.045)" text-anchor="middle" font-size="41.3">2</text>
<text transform="translate(1011.8,1566.1) scale(1,1.045)" text-anchor="middle" font-size="41.3">3</text>
<text transform="translate(829.2,1152.2) scale(1,1.045)" text-anchor="middle" font-size="41.3">B-GC91T</text>
<text transform="translate(918.2,1302.6) scale(1,1.045)" text-anchor="middle" font-size="41.3">4.8-fold</text>
<line x1="800.0" y1="1471.6" x2="946.6" y2="1422.1" stroke="#000" stroke-width="2.3"/>
<g fill="#000"><circle cx="946.6" cy="1469.6" r="9.4"/><circle cx="939.1" cy="1468.7" r="9.4"/><circle cx="914.5" cy="1471.3" r="9.4"/><circle cx="884.6" cy="1473.0" r="9.4"/><circle cx="876.1" cy="1459.5" r="9.4"/><circle cx="882.5" cy="1462.7" r="9.4"/><circle cx="863.2" cy="1482.0" r="9.4"/><circle cx="877.1" cy="1479.8" r="9.4"/><circle cx="658.4" cy="1521.3" r="9.4"/><circle cx="668.0" cy="1520.8" r="9.4"/><circle cx="676.2" cy="1518.4" r="9.4"/><circle cx="682.1" cy="1516.8" r="9.4"/><circle cx="690.2" cy="1516.1" r="9.4"/><circle cx="697.0" cy="1514.6" r="9.4"/><circle cx="705.7" cy="1511.6" r="9.4"/><circle cx="714.5" cy="1511.3" r="9.4"/><circle cx="722.7" cy="1511.4" r="9.4"/><circle cx="728.9" cy="1504.5" r="9.4"/><circle cx="734.2" cy="1503.1" r="9.4"/><circle cx="742.6" cy="1503.1" r="9.4"/><circle cx="750.0" cy="1500.3" r="9.4"/><circle cx="759.6" cy="1497.8" r="9.4"/><circle cx="764.9" cy="1498.6" r="9.4"/><circle cx="775.7" cy="1496.0" r="9.4"/><circle cx="781.3" cy="1491.0" r="9.4"/><circle cx="785.2" cy="1487.1" r="9.4"/><circle cx="793.5" cy="1486.4" r="9.4"/><circle cx="801.9" cy="1489.5" r="9.4"/><circle cx="808.8" cy="1490.7" r="9.4"/><circle cx="817.3" cy="1488.1" r="9.4"/><circle cx="822.0" cy="1482.1" r="9.4"/><circle cx="828.4" cy="1479.9" r="9.4"/><circle cx="836.4" cy="1476.2" r="9.4"/><circle cx="844.8" cy="1471.0" r="9.4"/><circle cx="852.6" cy="1473.4" r="9.4"/><circle cx="859.3" cy="1476.1" r="9.4"/><circle cx="864.8" cy="1476.1" r="9.4"/><circle cx="875.0" cy="1475.8" r="9.4"/><circle cx="879.5" cy="1477.2" r="9.4"/><circle cx="883.3" cy="1472.8" r="9.4"/><circle cx="880.3" cy="1464.8" r="9.4"/><circle cx="875.9" cy="1462.9" r="9.4"/><circle cx="867.5" cy="1467.2" r="9.4"/><circle cx="861.0" cy="1469.3" r="9.4"/><circle cx="852.3" cy="1466.7" r="9.4"/><circle cx="844.8" cy="1464.0" r="9.4"/><circle cx="837.0" cy="1466.3" r="9.4"/><circle cx="831.2" cy="1470.2" r="9.4"/><circle cx="822.2" cy="1471.7" r="9.4"/><circle cx="815.6" cy="1470.7" r="9.4"/><circle cx="807.2" cy="1472.5" r="9.4"/><circle cx="800.1" cy="1477.8" r="9.4"/><circle cx="792.8" cy="1477.6" r="9.4"/><circle cx="784.9" cy="1475.1" r="9.4"/><circle cx="779.2" cy="1480.6" r="9.4"/><circle cx="773.0" cy="1483.0" r="9.4"/><circle cx="763.8" cy="1481.9" r="9.4"/><circle cx="757.5" cy="1483.6" r="9.4"/><circle cx="751.3" cy="1484.8" r="9.4"/><circle cx="741.4" cy="1487.9" r="9.4"/><circle cx="736.6" cy="1492.3" r="9.4"/><circle cx="733.6" cy="1500.4" r="9.4"/><circle cx="726.2" cy="1504.1" r="9.4"/><circle cx="719.7" cy="1501.7" r="9.4"/><circle cx="711.6" cy="1506.6" r="9.4"/><circle cx="705.0" cy="1506.5" r="9.4"/><circle cx="697.4" cy="1509.1" r="9.4"/><circle cx="688.5" cy="1514.4" r="9.4"/><circle cx="682.5" cy="1514.4" r="9.4"/><circle cx="674.2" cy="1515.6" r="9.4"/><circle cx="664.2" cy="1518.3" r="9.4"/><circle cx="841.4" cy="1466.4" r="9.4"/><circle cx="847.4" cy="1466.4" r="9.4"/><circle cx="871.4" cy="1466.4" r="9.4"/><circle cx="877.4" cy="1466.4" r="9.4"/><circle cx="814.4" cy="1471.5" r="9.4"/><circle cx="820.4" cy="1471.5" r="9.4"/><circle cx="832.4" cy="1471.5" r="9.4"/><circle cx="838.4" cy="1471.5" r="9.4"/><circle cx="850.4" cy="1471.5" r="9.4"/><circle cx="856.4" cy="1471.5" r="9.4"/><circle cx="862.4" cy="1471.5" r="9.4"/><circle cx="868.4" cy="1471.5" r="9.4"/><circle cx="874.4" cy="1471.5" r="9.4"/><circle cx="880.4" cy="1471.5" r="9.4"/><circle cx="787.4" cy="1476.7" r="9.4"/><circle cx="805.4" cy="1476.7" r="9.4"/><circle cx="811.4" cy="1476.7" r="9.4"/><circle cx="817.4" cy="1476.7" r="9.4"/><circle cx="823.4" cy="1476.7" r="9.4"/><circle cx="829.4" cy="1476.7" r="9.4"/><circle cx="877.4" cy="1476.7" r="9.4"/><circle cx="766.4" cy="1481.9" r="9.4"/><circle cx="778.4" cy="1481.9" r="9.4"/><circle cx="784.4" cy="1481.9" r="9.4"/><circle cx="790.4" cy="1481.9" r="9.4"/><circle cx="796.4" cy="1481.9" r="9.4"/><circle cx="802.4" cy="1481.9" r="9.4"/><circle cx="808.4" cy="1481.9" r="9.4"/><circle cx="814.4" cy="1481.9" r="9.4"/><circle cx="820.4" cy="1481.9" r="9.4"/><circle cx="745.4" cy="1487.1" r="9.4"/><circle cx="751.4" cy="1487.1" r="9.4"/><circle cx="757.4" cy="1487.1" r="9.4"/><circle cx="763.4" cy="1487.1" r="9.4"/><circle cx="769.4" cy="1487.1" r="9.4"/><circle cx="775.4" cy="1487.1" r="9.4"/><circle cx="781.4" cy="1487.1" r="9.4"/><circle cx="799.4" cy="1487.1" r="9.4"/><circle cx="805.4" cy="1487.1" r="9.4"/><circle cx="811.4" cy="1487.1" r="9.4"/><circle cx="742.4" cy="1492.3" r="9.4"/><circle cx="748.4" cy="1492.3" r="9.4"/><circle cx="754.4" cy="1492.3" r="9.4"/><circle cx="760.4" cy="1492.3" r="9.4"/><circle cx="766.4" cy="1492.3" r="9.4"/><circle cx="772.4" cy="1492.3" r="9.4"/><circle cx="778.4" cy="1492.3" r="9.4"/><circle cx="739.4" cy="1497.5" r="9.4"/><circle cx="745.4" cy="1497.5" r="9.4"/><circle cx="751.4" cy="1497.5" r="9.4"/><circle cx="757.4" cy="1497.5" r="9.4"/><circle cx="763.4" cy="1497.5" r="9.4"/><circle cx="769.4" cy="1497.5" r="9.4"/><circle cx="718.4" cy="1502.7" r="9.4"/><circle cx="736.4" cy="1502.7" r="9.4"/><circle cx="703.4" cy="1507.9" r="9.4"/><circle cx="709.4" cy="1507.9" r="9.4"/><circle cx="715.4" cy="1507.9" r="9.4"/><circle cx="721.4" cy="1507.9" r="9.4"/><circle cx="694.4" cy="1513.1" r="9.4"/><circle cx="667.4" cy="1518.3" r="9.4"/><circle cx="673.4" cy="1518.3" r="9.4"/><circle cx="881.8" cy="1461.5" r="9.4"/><circle cx="862.3" cy="1479.6" r="9.4"/><circle cx="886.3" cy="1473.0" r="9.4"/><circle cx="776.8" cy="1499.3" r="9.4"/><circle cx="656.3" cy="1525.3" r="9.4"/><circle cx="735.3" cy="1488.8" r="9.4"/><circle cx="813.4" cy="1492.0" r="9.4"/><circle cx="726.2" cy="1512.6" r="9.4"/><circle cx="717.6" cy="1499.1" r="9.4"/><circle cx="820.4" cy="1467.8" r="9.4"/><circle cx="670.4" cy="1512.5" r="9.4"/><circle cx="765.6" cy="1478.8" r="9.4"/><circle cx="677.1" cy="1520.9" r="9.4"/><circle cx="880.7" cy="1479.0" r="9.4"/><circle cx="702.3" cy="1504.1" r="9.4"/><circle cx="788.7" cy="1474.0" r="9.4"/><circle cx="741.9" cy="1485.6" r="9.4"/><circle cx="760.3" cy="1501.7" r="9.4"/><circle cx="677.8" cy="1513.0" r="9.4"/><circle cx="878.3" cy="1457.3" r="9.4"/><circle cx="840.1" cy="1463.3" r="9.4"/><circle cx="802.4" cy="1491.7" r="9.4"/><circle cx="831.8" cy="1481.0" r="9.4"/><circle cx="853.0" cy="1476.3" r="9.4"/><circle cx="812.0" cy="1468.2" r="9.4"/><circle cx="687.6" cy="1510.9" r="9.4"/><circle cx="702.7" cy="1514.3" r="9.4"/><circle cx="665.9" cy="1524.2" r="9.4"/><circle cx="767.7" cy="1500.3" r="9.4"/><circle cx="861.9" cy="1482.4" r="9.4"/><circle cx="785.6" cy="1471.7" r="9.4"/></g>
<g fill="#fff" stroke="#000" stroke-width="2.8"><circle cx="868.0" cy="1195.4" r="8.1"/><circle cx="851.1" cy="1234.1" r="8.1"/><circle cx="823.4" cy="1254.4" r="8.1"/><circle cx="812.4" cy="1245.8" r="8.1"/><circle cx="816.4" cy="1261.8" r="8.1"/></g>
<line x1="812.0" y1="1259.4" x2="867.4" y2="1204.4" stroke="#000" stroke-width="2.3"/>
</svg>
</body></html>
